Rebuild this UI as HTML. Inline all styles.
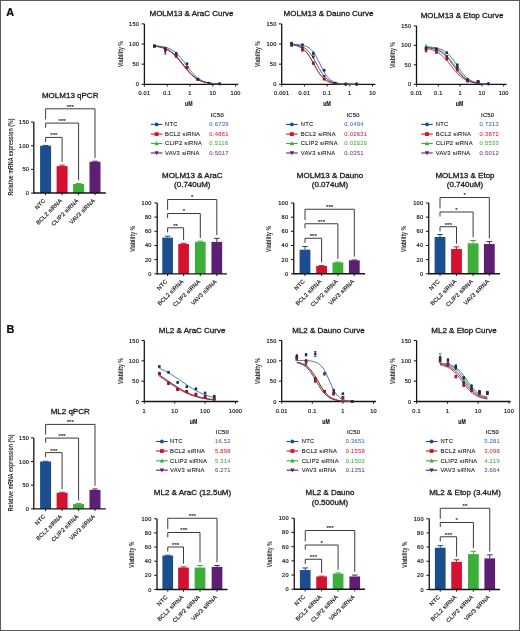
<!DOCTYPE html>
<html><head><meta charset="utf-8"><title>Figure</title>
<style>html,body{margin:0;padding:0;background:#fff;} svg{display:block;will-change:transform;}</style>
</head><body>
<svg width="520" height="631" viewBox="0 0 520 631" font-family='"Liberation Sans", sans-serif'>
<rect x="0" y="0" width="520" height="631" fill="#ffffff"/>
<rect x="0.5" y="0.5" width="519" height="630" fill="none" stroke="#5a5a5a" stroke-width="1"/>
<text x="10.20" y="15.90" font-size="10.9" text-anchor="middle" font-weight="bold" fill="#0a0a0a" stroke="#0a0a0a" stroke-width="0.2">A</text>
<text x="10.50" y="332.80" font-size="10.9" text-anchor="middle" font-weight="bold" fill="#0a0a0a" stroke="#0a0a0a" stroke-width="0.2">B</text>
<text x="70.20" y="97.70" font-size="8" text-anchor="middle" font-weight="normal" fill="#1a1a1a" stroke="#1a1a1a" stroke-width="0.3">MOLM13 qPCR</text>
<line x1="33.80" y1="122.09" x2="33.80" y2="193.50" stroke="#141414" stroke-width="1.3"/>
<line x1="31.00" y1="193.00" x2="33.80" y2="193.00" stroke="#141414" stroke-width="1"/>
<text x="29.20" y="195.00" font-size="5.6" text-anchor="end" font-weight="normal" fill="#1a1a1a" letter-spacing="0.25" stroke="#1a1a1a" stroke-width="0.18">0</text>
<line x1="31.00" y1="169.37" x2="33.80" y2="169.37" stroke="#141414" stroke-width="1"/>
<text x="29.20" y="171.37" font-size="5.6" text-anchor="end" font-weight="normal" fill="#1a1a1a" letter-spacing="0.25" stroke="#1a1a1a" stroke-width="0.18">50</text>
<line x1="31.00" y1="145.73" x2="33.80" y2="145.73" stroke="#141414" stroke-width="1"/>
<text x="29.20" y="147.73" font-size="5.6" text-anchor="end" font-weight="normal" fill="#1a1a1a" letter-spacing="0.25" stroke="#1a1a1a" stroke-width="0.18">100</text>
<line x1="31.00" y1="122.09" x2="33.80" y2="122.09" stroke="#141414" stroke-width="1"/>
<text x="29.20" y="124.09" font-size="5.6" text-anchor="end" font-weight="normal" fill="#1a1a1a" letter-spacing="0.25" stroke="#1a1a1a" stroke-width="0.18">150</text>
<rect x="40.10" y="145.73" width="11.00" height="47.27" fill="#1b4e8e"/>
<line x1="45.60" y1="145.73" x2="45.60" y2="145.45" stroke="#1b4e8e" stroke-width="1"/>
<line x1="42.80" y1="145.45" x2="48.40" y2="145.45" stroke="#1b4e8e" stroke-width="1"/>
<rect x="56.60" y="166.06" width="11.00" height="26.94" fill="#d3122f"/>
<line x1="62.10" y1="166.06" x2="62.10" y2="165.11" stroke="#d3122f" stroke-width="1"/>
<line x1="59.30" y1="165.11" x2="64.90" y2="165.11" stroke="#d3122f" stroke-width="1"/>
<rect x="73.10" y="184.02" width="11.00" height="8.98" fill="#3dae3a"/>
<line x1="78.60" y1="184.02" x2="78.60" y2="183.55" stroke="#3dae3a" stroke-width="1"/>
<line x1="75.80" y1="183.55" x2="81.40" y2="183.55" stroke="#3dae3a" stroke-width="1"/>
<rect x="89.50" y="161.80" width="11.00" height="31.20" fill="#5c1f72"/>
<line x1="95.00" y1="161.80" x2="95.00" y2="161.23" stroke="#5c1f72" stroke-width="1"/>
<line x1="92.20" y1="161.23" x2="97.80" y2="161.23" stroke="#5c1f72" stroke-width="1"/>
<line x1="33.30" y1="193.00" x2="105.80" y2="193.00" stroke="#141414" stroke-width="1.3"/>
<line x1="45.60" y1="193.00" x2="45.60" y2="195.20" stroke="#141414" stroke-width="1"/>
<text x="45.90" y="201.00" font-size="5.7" text-anchor="end" font-weight="normal" fill="#1a1a1a" letter-spacing="0.2" transform="rotate(-45 45.90 201.00)" stroke="#1a1a1a" stroke-width="0.18">NTC</text>
<line x1="62.10" y1="193.00" x2="62.10" y2="195.20" stroke="#141414" stroke-width="1"/>
<text x="62.40" y="201.00" font-size="5.7" text-anchor="end" font-weight="normal" fill="#1a1a1a" letter-spacing="0.2" transform="rotate(-45 62.40 201.00)" stroke="#1a1a1a" stroke-width="0.18">BCL2 siRNA</text>
<line x1="78.60" y1="193.00" x2="78.60" y2="195.20" stroke="#141414" stroke-width="1"/>
<text x="78.90" y="201.00" font-size="5.7" text-anchor="end" font-weight="normal" fill="#1a1a1a" letter-spacing="0.2" transform="rotate(-45 78.90 201.00)" stroke="#1a1a1a" stroke-width="0.18">CLIP2 siRNA</text>
<line x1="95.00" y1="193.00" x2="95.00" y2="195.20" stroke="#141414" stroke-width="1"/>
<text x="95.30" y="201.00" font-size="5.7" text-anchor="end" font-weight="normal" fill="#1a1a1a" letter-spacing="0.2" transform="rotate(-45 95.30 201.00)" stroke="#1a1a1a" stroke-width="0.18">VAV3 siRNA</text>
<polyline points="45.60,142.00 45.60,137.40 62.10,137.40 62.10,161.91" fill="none" stroke="#3c3c3c" stroke-width="1"/>
<text x="53.85" y="137.30" font-size="6.2" text-anchor="middle" font-weight="normal" fill="#1a1a1a" stroke="#1a1a1a" stroke-width="0.12">***</text>
<polyline points="45.60,127.70 45.60,123.10 78.60,123.10 78.60,180.35" fill="none" stroke="#3c3c3c" stroke-width="1"/>
<text x="62.10" y="123.00" font-size="6.2" text-anchor="middle" font-weight="normal" fill="#1a1a1a" stroke="#1a1a1a" stroke-width="0.12">***</text>
<polyline points="45.60,119.50 45.60,108.80 95.00,108.80 95.00,158.03" fill="none" stroke="#3c3c3c" stroke-width="1"/>
<text x="70.30" y="108.70" font-size="6.2" text-anchor="middle" font-weight="normal" fill="#1a1a1a" stroke="#1a1a1a" stroke-width="0.12">***</text>
<text x="13.50" y="157.05" font-size="7.5" text-anchor="middle" font-weight="bold" fill="#2a2a2a" transform="rotate(-90 13.50 157.05)" textLength="77.0" lengthAdjust="spacingAndGlyphs">Relative mRNA expression (%)</text>
<text x="70.20" y="413.90" font-size="8" text-anchor="middle" font-weight="normal" fill="#1a1a1a" stroke="#1a1a1a" stroke-width="0.3">ML2 qPCR</text>
<line x1="33.80" y1="437.89" x2="33.80" y2="509.30" stroke="#141414" stroke-width="1.3"/>
<line x1="31.00" y1="508.80" x2="33.80" y2="508.80" stroke="#141414" stroke-width="1"/>
<text x="29.20" y="510.80" font-size="5.6" text-anchor="end" font-weight="normal" fill="#1a1a1a" letter-spacing="0.25" stroke="#1a1a1a" stroke-width="0.18">0</text>
<line x1="31.00" y1="485.17" x2="33.80" y2="485.17" stroke="#141414" stroke-width="1"/>
<text x="29.20" y="487.17" font-size="5.6" text-anchor="end" font-weight="normal" fill="#1a1a1a" letter-spacing="0.25" stroke="#1a1a1a" stroke-width="0.18">50</text>
<line x1="31.00" y1="461.53" x2="33.80" y2="461.53" stroke="#141414" stroke-width="1"/>
<text x="29.20" y="463.53" font-size="5.6" text-anchor="end" font-weight="normal" fill="#1a1a1a" letter-spacing="0.25" stroke="#1a1a1a" stroke-width="0.18">100</text>
<line x1="31.00" y1="437.89" x2="33.80" y2="437.89" stroke="#141414" stroke-width="1"/>
<text x="29.20" y="439.89" font-size="5.6" text-anchor="end" font-weight="normal" fill="#1a1a1a" letter-spacing="0.25" stroke="#1a1a1a" stroke-width="0.18">150</text>
<rect x="40.10" y="461.53" width="11.00" height="47.27" fill="#1b4e8e"/>
<line x1="45.60" y1="461.53" x2="45.60" y2="461.25" stroke="#1b4e8e" stroke-width="1"/>
<line x1="42.80" y1="461.25" x2="48.40" y2="461.25" stroke="#1b4e8e" stroke-width="1"/>
<rect x="56.60" y="492.73" width="11.00" height="16.07" fill="#d3122f"/>
<line x1="62.10" y1="492.73" x2="62.10" y2="492.26" stroke="#d3122f" stroke-width="1"/>
<line x1="59.30" y1="492.26" x2="64.90" y2="492.26" stroke="#d3122f" stroke-width="1"/>
<rect x="73.10" y="504.07" width="11.00" height="4.73" fill="#3dae3a"/>
<line x1="78.60" y1="504.07" x2="78.60" y2="503.60" stroke="#3dae3a" stroke-width="1"/>
<line x1="75.80" y1="503.60" x2="81.40" y2="503.60" stroke="#3dae3a" stroke-width="1"/>
<rect x="89.50" y="489.89" width="11.00" height="18.91" fill="#5c1f72"/>
<line x1="95.00" y1="489.89" x2="95.00" y2="488.95" stroke="#5c1f72" stroke-width="1"/>
<line x1="92.20" y1="488.95" x2="97.80" y2="488.95" stroke="#5c1f72" stroke-width="1"/>
<line x1="33.30" y1="508.80" x2="105.80" y2="508.80" stroke="#141414" stroke-width="1.3"/>
<line x1="45.60" y1="508.80" x2="45.60" y2="511.00" stroke="#141414" stroke-width="1"/>
<text x="45.90" y="516.80" font-size="5.7" text-anchor="end" font-weight="normal" fill="#1a1a1a" letter-spacing="0.2" transform="rotate(-45 45.90 516.80)" stroke="#1a1a1a" stroke-width="0.18">NTC</text>
<line x1="62.10" y1="508.80" x2="62.10" y2="511.00" stroke="#141414" stroke-width="1"/>
<text x="62.40" y="516.80" font-size="5.7" text-anchor="end" font-weight="normal" fill="#1a1a1a" letter-spacing="0.2" transform="rotate(-45 62.40 516.80)" stroke="#1a1a1a" stroke-width="0.18">BCL2 siRNA</text>
<line x1="78.60" y1="508.80" x2="78.60" y2="511.00" stroke="#141414" stroke-width="1"/>
<text x="78.90" y="516.80" font-size="5.7" text-anchor="end" font-weight="normal" fill="#1a1a1a" letter-spacing="0.2" transform="rotate(-45 78.90 516.80)" stroke="#1a1a1a" stroke-width="0.18">CLIP2 siRNA</text>
<line x1="95.00" y1="508.80" x2="95.00" y2="511.00" stroke="#141414" stroke-width="1"/>
<text x="95.30" y="516.80" font-size="5.7" text-anchor="end" font-weight="normal" fill="#1a1a1a" letter-spacing="0.2" transform="rotate(-45 95.30 516.80)" stroke="#1a1a1a" stroke-width="0.18">VAV3 siRNA</text>
<polyline points="45.60,457.20 45.60,452.60 62.10,452.60 62.10,489.06" fill="none" stroke="#3c3c3c" stroke-width="1"/>
<text x="53.85" y="452.50" font-size="6.2" text-anchor="middle" font-weight="normal" fill="#1a1a1a" stroke="#1a1a1a" stroke-width="0.12">***</text>
<polyline points="45.60,442.70 45.60,438.10 78.60,438.10 78.60,500.40" fill="none" stroke="#3c3c3c" stroke-width="1"/>
<text x="62.10" y="438.00" font-size="6.2" text-anchor="middle" font-weight="normal" fill="#1a1a1a" stroke="#1a1a1a" stroke-width="0.12">***</text>
<polyline points="45.60,434.50 45.60,424.40 95.00,424.40 95.00,485.75" fill="none" stroke="#3c3c3c" stroke-width="1"/>
<text x="70.30" y="424.30" font-size="6.2" text-anchor="middle" font-weight="normal" fill="#1a1a1a" stroke="#1a1a1a" stroke-width="0.12">***</text>
<text x="13.50" y="472.85" font-size="7.5" text-anchor="middle" font-weight="bold" fill="#2a2a2a" transform="rotate(-90 13.50 472.85)" textLength="77.0" lengthAdjust="spacingAndGlyphs">Relative mRNA expression (%)</text>
<text x="191.50" y="16.00" font-size="8" text-anchor="middle" font-weight="normal" fill="#1a1a1a" stroke="#1a1a1a" stroke-width="0.3">MOLM13 &amp; AraC Curve</text>
<line x1="144.40" y1="23.89" x2="144.40" y2="84.80" stroke="#141414" stroke-width="1.3"/>
<line x1="141.60" y1="84.30" x2="144.40" y2="84.30" stroke="#141414" stroke-width="1"/>
<text x="139.20" y="86.30" font-size="5.6" text-anchor="end" font-weight="normal" fill="#1a1a1a" letter-spacing="0.25" stroke="#1a1a1a" stroke-width="0.18">0</text>
<line x1="141.60" y1="64.16" x2="144.40" y2="64.16" stroke="#141414" stroke-width="1"/>
<text x="139.20" y="66.16" font-size="5.6" text-anchor="end" font-weight="normal" fill="#1a1a1a" letter-spacing="0.25" stroke="#1a1a1a" stroke-width="0.18">50</text>
<line x1="141.60" y1="44.03" x2="144.40" y2="44.03" stroke="#141414" stroke-width="1"/>
<text x="139.20" y="46.03" font-size="5.6" text-anchor="end" font-weight="normal" fill="#1a1a1a" letter-spacing="0.25" stroke="#1a1a1a" stroke-width="0.18">100</text>
<line x1="141.60" y1="23.89" x2="144.40" y2="23.89" stroke="#141414" stroke-width="1"/>
<text x="139.20" y="25.89" font-size="5.6" text-anchor="end" font-weight="normal" fill="#1a1a1a" letter-spacing="0.25" stroke="#1a1a1a" stroke-width="0.18">150</text>
<line x1="143.90" y1="84.30" x2="238.30" y2="84.30" stroke="#141414" stroke-width="1.3"/>
<line x1="144.40" y1="84.30" x2="144.40" y2="86.50" stroke="#141414" stroke-width="1"/>
<text x="144.40" y="95.30" font-size="5.6" text-anchor="middle" font-weight="normal" fill="#1a1a1a" letter-spacing="0.25" stroke="#1a1a1a" stroke-width="0.18">0.01</text>
<line x1="167.20" y1="84.30" x2="167.20" y2="86.50" stroke="#141414" stroke-width="1"/>
<text x="167.20" y="95.30" font-size="5.6" text-anchor="middle" font-weight="normal" fill="#1a1a1a" letter-spacing="0.25" stroke="#1a1a1a" stroke-width="0.18">0.1</text>
<line x1="190.00" y1="84.30" x2="190.00" y2="86.50" stroke="#141414" stroke-width="1"/>
<text x="190.00" y="95.30" font-size="5.6" text-anchor="middle" font-weight="normal" fill="#1a1a1a" letter-spacing="0.25" stroke="#1a1a1a" stroke-width="0.18">1</text>
<line x1="212.80" y1="84.30" x2="212.80" y2="86.50" stroke="#141414" stroke-width="1"/>
<text x="212.80" y="95.30" font-size="5.6" text-anchor="middle" font-weight="normal" fill="#1a1a1a" letter-spacing="0.25" stroke="#1a1a1a" stroke-width="0.18">10</text>
<line x1="235.60" y1="84.30" x2="235.60" y2="86.50" stroke="#141414" stroke-width="1"/>
<text x="235.60" y="95.30" font-size="5.6" text-anchor="middle" font-weight="normal" fill="#1a1a1a" letter-spacing="0.25" stroke="#1a1a1a" stroke-width="0.18">100</text>
<text x="188.80" y="106.40" font-size="7.6" text-anchor="middle" font-weight="bold" fill="#1a1a1a" textLength="7.5" lengthAdjust="spacingAndGlyphs" stroke="#1a1a1a" stroke-width="0.18">uM</text>
<text x="122.90" y="54.10" font-size="7.5" text-anchor="middle" font-weight="bold" fill="#2a2a2a" transform="rotate(-90 122.90 54.10)" textLength="26.0" lengthAdjust="spacingAndGlyphs">Viability %</text>
<polyline points="154.4,46.1 156.0,46.3 157.7,46.5 159.3,46.8 160.9,47.2 162.6,47.6 164.2,48.2 165.8,48.8 167.4,49.5 169.1,50.4 170.7,51.5 172.3,52.7 174.0,54.1 175.6,55.6 177.2,57.3 178.9,59.2 180.5,61.1 182.1,63.2 183.8,65.3 185.4,67.4 187.0,69.4 188.7,71.3 190.3,73.1 191.9,74.7 193.6,76.2 195.2,77.5 196.8,78.6 198.5,79.6 200.1,80.4 201.7,81.1 203.3,81.7 205.0,82.1 206.6,82.5 208.2,82.9 209.9,83.1 211.5,83.4 213.1,83.5 214.8,83.7 216.4,83.8 218.0,83.9 219.7,84.0" fill="none" stroke="#3f9f3f" stroke-width="0.9"/>
<polyline points="154.4,46.1 156.0,46.3 157.7,46.6 159.3,46.9 160.9,47.2 162.6,47.7 164.2,48.2 165.8,48.9 167.4,49.6 169.1,50.5 170.7,51.6 172.3,52.8 174.0,54.2 175.6,55.8 177.2,57.5 178.9,59.4 180.5,61.4 182.1,63.4 183.8,65.5 185.4,67.6 187.0,69.6 188.7,71.5 190.3,73.3 191.9,74.9 193.6,76.3 195.2,77.6 196.8,78.7 198.5,79.7 200.1,80.5 201.7,81.2 203.3,81.7 205.0,82.2 206.6,82.6 208.2,82.9 209.9,83.2 211.5,83.4 213.1,83.6 214.8,83.7 216.4,83.8 218.0,83.9 219.7,84.0" fill="none" stroke="#5a2a72" stroke-width="0.9"/>
<polyline points="154.4,46.1 156.0,46.4 157.7,46.6 159.3,46.9 160.9,47.3 162.6,47.8 164.2,48.3 165.8,49.0 167.4,49.8 169.1,50.7 170.7,51.8 172.3,53.1 174.0,54.5 175.6,56.1 177.2,57.9 178.9,59.8 180.5,61.8 182.1,63.8 183.8,65.9 185.4,68.0 187.0,70.0 188.7,71.9 190.3,73.6 191.9,75.2 193.6,76.6 195.2,77.8 196.8,78.9 198.5,79.8 200.1,80.6 201.7,81.3 203.3,81.8 205.0,82.3 206.6,82.6 208.2,83.0 209.9,83.2 211.5,83.4 213.1,83.6 214.8,83.7 216.4,83.8 218.0,83.9 219.7,84.0" fill="none" stroke="#c0182e" stroke-width="0.9"/>
<polyline points="154.4,45.7 156.0,45.8 157.7,45.9 159.3,46.1 160.9,46.3 162.6,46.6 164.2,46.9 165.8,47.3 167.4,47.8 169.1,48.5 170.7,49.2 172.3,50.1 174.0,51.2 175.6,52.5 177.2,53.9 178.9,55.6 180.5,57.4 182.1,59.4 183.8,61.6 185.4,63.8 187.0,66.1 188.7,68.3 190.3,70.4 191.9,72.4 193.6,74.2 195.2,75.8 196.8,77.3 198.5,78.5 200.1,79.6 201.7,80.4 203.3,81.2 205.0,81.8 206.6,82.3 208.2,82.7 209.9,83.0 211.5,83.3 213.1,83.5 214.8,83.6 216.4,83.8 218.0,83.9 219.7,84.0" fill="none" stroke="#2f6aa5" stroke-width="0.9"/>
<polygon points="219.66,82.40 221.16,85.09 218.17,85.09" fill="#2f8a2f"/>
<polygon points="208.79,82.00 210.28,84.69 207.29,84.69" fill="#2f8a2f"/>
<line x1="197.91" y1="79.87" x2="197.91" y2="79.06" stroke="#2f8a2f" stroke-width="0.8"/>
<line x1="196.71" y1="79.06" x2="199.11" y2="79.06" stroke="#2f8a2f" stroke-width="0.8"/>
<line x1="196.71" y1="79.87" x2="199.11" y2="79.87" stroke="#2f8a2f" stroke-width="0.8"/>
<polygon points="197.91,77.97 199.40,80.66 196.41,80.66" fill="#2f8a2f"/>
<line x1="187.03" y1="66.98" x2="187.03" y2="66.18" stroke="#2f8a2f" stroke-width="0.8"/>
<line x1="185.83" y1="66.18" x2="188.23" y2="66.18" stroke="#2f8a2f" stroke-width="0.8"/>
<line x1="185.83" y1="66.98" x2="188.23" y2="66.98" stroke="#2f8a2f" stroke-width="0.8"/>
<polygon points="187.03,65.09 188.52,67.78 185.53,67.78" fill="#2f8a2f"/>
<line x1="176.15" y1="56.11" x2="176.15" y2="54.50" stroke="#2f8a2f" stroke-width="0.8"/>
<line x1="174.95" y1="54.50" x2="177.35" y2="54.50" stroke="#2f8a2f" stroke-width="0.8"/>
<line x1="174.95" y1="56.11" x2="177.35" y2="56.11" stroke="#2f8a2f" stroke-width="0.8"/>
<polygon points="176.15,53.81 177.65,56.50 174.66,56.50" fill="#2f8a2f"/>
<line x1="165.27" y1="49.67" x2="165.27" y2="48.06" stroke="#2f8a2f" stroke-width="0.8"/>
<line x1="164.07" y1="48.06" x2="166.47" y2="48.06" stroke="#2f8a2f" stroke-width="0.8"/>
<line x1="164.07" y1="49.67" x2="166.47" y2="49.67" stroke="#2f8a2f" stroke-width="0.8"/>
<polygon points="165.27,47.37 166.77,50.06 163.78,50.06" fill="#2f8a2f"/>
<line x1="154.39" y1="46.45" x2="154.39" y2="44.84" stroke="#2f8a2f" stroke-width="0.8"/>
<line x1="153.19" y1="44.84" x2="155.59" y2="44.84" stroke="#2f8a2f" stroke-width="0.8"/>
<line x1="153.19" y1="46.45" x2="155.59" y2="46.45" stroke="#2f8a2f" stroke-width="0.8"/>
<polygon points="154.39,44.15 155.89,46.84 152.90,46.84" fill="#2f8a2f"/>
<polygon points="219.66,85.39 221.16,82.70 218.17,82.70" fill="#461858"/>
<polygon points="208.79,84.99 210.28,82.30 207.29,82.30" fill="#461858"/>
<line x1="197.91" y1="79.87" x2="197.91" y2="79.06" stroke="#461858" stroke-width="0.8"/>
<line x1="196.71" y1="79.06" x2="199.11" y2="79.06" stroke="#461858" stroke-width="0.8"/>
<line x1="196.71" y1="79.87" x2="199.11" y2="79.87" stroke="#461858" stroke-width="0.8"/>
<polygon points="197.91,80.96 199.40,78.27 196.41,78.27" fill="#461858"/>
<line x1="187.03" y1="67.79" x2="187.03" y2="66.98" stroke="#461858" stroke-width="0.8"/>
<line x1="185.83" y1="66.98" x2="188.23" y2="66.98" stroke="#461858" stroke-width="0.8"/>
<line x1="185.83" y1="67.79" x2="188.23" y2="67.79" stroke="#461858" stroke-width="0.8"/>
<polygon points="187.03,68.88 188.52,66.19 185.53,66.19" fill="#461858"/>
<line x1="176.15" y1="56.92" x2="176.15" y2="55.31" stroke="#461858" stroke-width="0.8"/>
<line x1="174.95" y1="55.31" x2="177.35" y2="55.31" stroke="#461858" stroke-width="0.8"/>
<line x1="174.95" y1="56.92" x2="177.35" y2="56.92" stroke="#461858" stroke-width="0.8"/>
<polygon points="176.15,57.61 177.65,54.91 174.66,54.91" fill="#461858"/>
<line x1="165.27" y1="54.10" x2="165.27" y2="49.27" stroke="#461858" stroke-width="0.8"/>
<line x1="164.07" y1="49.27" x2="166.47" y2="49.27" stroke="#461858" stroke-width="0.8"/>
<line x1="164.07" y1="54.10" x2="166.47" y2="54.10" stroke="#461858" stroke-width="0.8"/>
<polygon points="165.27,53.18 166.77,50.49 163.78,50.49" fill="#461858"/>
<line x1="154.39" y1="47.25" x2="154.39" y2="45.64" stroke="#461858" stroke-width="0.8"/>
<line x1="153.19" y1="45.64" x2="155.59" y2="45.64" stroke="#461858" stroke-width="0.8"/>
<line x1="153.19" y1="47.25" x2="155.59" y2="47.25" stroke="#461858" stroke-width="0.8"/>
<polygon points="154.39,47.94 155.89,45.25 152.90,45.25" fill="#461858"/>
<rect x="218.36" y="82.60" width="2.60" height="2.60" fill="#a8102a"/>
<rect x="207.49" y="82.19" width="2.60" height="2.60" fill="#a8102a"/>
<line x1="197.91" y1="79.87" x2="197.91" y2="79.06" stroke="#a8102a" stroke-width="0.8"/>
<line x1="196.71" y1="79.06" x2="199.11" y2="79.06" stroke="#a8102a" stroke-width="0.8"/>
<line x1="196.71" y1="79.87" x2="199.11" y2="79.87" stroke="#a8102a" stroke-width="0.8"/>
<rect x="196.61" y="78.17" width="2.60" height="2.60" fill="#a8102a"/>
<line x1="187.03" y1="67.79" x2="187.03" y2="66.98" stroke="#a8102a" stroke-width="0.8"/>
<line x1="185.83" y1="66.98" x2="188.23" y2="66.98" stroke="#a8102a" stroke-width="0.8"/>
<line x1="185.83" y1="67.79" x2="188.23" y2="67.79" stroke="#a8102a" stroke-width="0.8"/>
<rect x="185.73" y="66.09" width="2.60" height="2.60" fill="#a8102a"/>
<line x1="176.15" y1="56.92" x2="176.15" y2="55.31" stroke="#a8102a" stroke-width="0.8"/>
<line x1="174.95" y1="55.31" x2="177.35" y2="55.31" stroke="#a8102a" stroke-width="0.8"/>
<line x1="174.95" y1="56.92" x2="177.35" y2="56.92" stroke="#a8102a" stroke-width="0.8"/>
<rect x="174.85" y="54.81" width="2.60" height="2.60" fill="#a8102a"/>
<line x1="165.27" y1="50.88" x2="165.27" y2="49.27" stroke="#a8102a" stroke-width="0.8"/>
<line x1="164.07" y1="49.27" x2="166.47" y2="49.27" stroke="#a8102a" stroke-width="0.8"/>
<line x1="164.07" y1="50.88" x2="166.47" y2="50.88" stroke="#a8102a" stroke-width="0.8"/>
<rect x="163.97" y="48.77" width="2.60" height="2.60" fill="#a8102a"/>
<line x1="154.39" y1="46.85" x2="154.39" y2="45.24" stroke="#a8102a" stroke-width="0.8"/>
<line x1="153.19" y1="45.24" x2="155.59" y2="45.24" stroke="#a8102a" stroke-width="0.8"/>
<line x1="153.19" y1="46.85" x2="155.59" y2="46.85" stroke="#a8102a" stroke-width="0.8"/>
<rect x="153.09" y="44.74" width="2.60" height="2.60" fill="#a8102a"/>
<circle cx="219.66" cy="83.90" r="1.30" fill="#142d5c"/>
<circle cx="208.79" cy="83.09" r="1.30" fill="#142d5c"/>
<line x1="197.91" y1="79.47" x2="197.91" y2="78.66" stroke="#142d5c" stroke-width="0.8"/>
<line x1="196.71" y1="78.66" x2="199.11" y2="78.66" stroke="#142d5c" stroke-width="0.8"/>
<line x1="196.71" y1="79.47" x2="199.11" y2="79.47" stroke="#142d5c" stroke-width="0.8"/>
<circle cx="197.91" cy="79.06" r="1.30" fill="#142d5c"/>
<line x1="187.03" y1="64.57" x2="187.03" y2="62.96" stroke="#142d5c" stroke-width="0.8"/>
<line x1="185.83" y1="62.96" x2="188.23" y2="62.96" stroke="#142d5c" stroke-width="0.8"/>
<line x1="185.83" y1="64.57" x2="188.23" y2="64.57" stroke="#142d5c" stroke-width="0.8"/>
<circle cx="187.03" cy="63.76" r="1.30" fill="#142d5c"/>
<line x1="176.15" y1="54.10" x2="176.15" y2="52.49" stroke="#142d5c" stroke-width="0.8"/>
<line x1="174.95" y1="52.49" x2="177.35" y2="52.49" stroke="#142d5c" stroke-width="0.8"/>
<line x1="174.95" y1="54.10" x2="177.35" y2="54.10" stroke="#142d5c" stroke-width="0.8"/>
<circle cx="176.15" cy="53.29" r="1.30" fill="#142d5c"/>
<line x1="165.27" y1="49.27" x2="165.27" y2="47.65" stroke="#142d5c" stroke-width="0.8"/>
<line x1="164.07" y1="47.65" x2="166.47" y2="47.65" stroke="#142d5c" stroke-width="0.8"/>
<line x1="164.07" y1="49.27" x2="166.47" y2="49.27" stroke="#142d5c" stroke-width="0.8"/>
<circle cx="165.27" cy="48.46" r="1.30" fill="#142d5c"/>
<line x1="154.39" y1="46.85" x2="154.39" y2="45.24" stroke="#142d5c" stroke-width="0.8"/>
<line x1="153.19" y1="45.24" x2="155.59" y2="45.24" stroke="#142d5c" stroke-width="0.8"/>
<line x1="153.19" y1="46.85" x2="155.59" y2="46.85" stroke="#142d5c" stroke-width="0.8"/>
<circle cx="154.39" cy="46.04" r="1.30" fill="#142d5c"/>
<text x="328.50" y="16.00" font-size="8" text-anchor="middle" font-weight="normal" fill="#1a1a1a" stroke="#1a1a1a" stroke-width="0.3">MOLM13 &amp; Dauno Curve</text>
<line x1="281.70" y1="23.89" x2="281.70" y2="84.80" stroke="#141414" stroke-width="1.3"/>
<line x1="278.90" y1="84.30" x2="281.70" y2="84.30" stroke="#141414" stroke-width="1"/>
<text x="276.50" y="86.30" font-size="5.6" text-anchor="end" font-weight="normal" fill="#1a1a1a" letter-spacing="0.25" stroke="#1a1a1a" stroke-width="0.18">0</text>
<line x1="278.90" y1="64.16" x2="281.70" y2="64.16" stroke="#141414" stroke-width="1"/>
<text x="276.50" y="66.16" font-size="5.6" text-anchor="end" font-weight="normal" fill="#1a1a1a" letter-spacing="0.25" stroke="#1a1a1a" stroke-width="0.18">50</text>
<line x1="278.90" y1="44.03" x2="281.70" y2="44.03" stroke="#141414" stroke-width="1"/>
<text x="276.50" y="46.03" font-size="5.6" text-anchor="end" font-weight="normal" fill="#1a1a1a" letter-spacing="0.25" stroke="#1a1a1a" stroke-width="0.18">100</text>
<line x1="278.90" y1="23.89" x2="281.70" y2="23.89" stroke="#141414" stroke-width="1"/>
<text x="276.50" y="25.89" font-size="5.6" text-anchor="end" font-weight="normal" fill="#1a1a1a" letter-spacing="0.25" stroke="#1a1a1a" stroke-width="0.18">150</text>
<line x1="281.20" y1="84.30" x2="375.40" y2="84.30" stroke="#141414" stroke-width="1.3"/>
<line x1="281.70" y1="84.30" x2="281.70" y2="86.50" stroke="#141414" stroke-width="1"/>
<text x="281.70" y="95.30" font-size="5.6" text-anchor="middle" font-weight="normal" fill="#1a1a1a" letter-spacing="0.25" stroke="#1a1a1a" stroke-width="0.18">0.001</text>
<line x1="304.40" y1="84.30" x2="304.40" y2="86.50" stroke="#141414" stroke-width="1"/>
<text x="304.40" y="95.30" font-size="5.6" text-anchor="middle" font-weight="normal" fill="#1a1a1a" letter-spacing="0.25" stroke="#1a1a1a" stroke-width="0.18">0.01</text>
<line x1="327.10" y1="84.30" x2="327.10" y2="86.50" stroke="#141414" stroke-width="1"/>
<text x="327.10" y="95.30" font-size="5.6" text-anchor="middle" font-weight="normal" fill="#1a1a1a" letter-spacing="0.25" stroke="#1a1a1a" stroke-width="0.18">0.1</text>
<line x1="349.80" y1="84.30" x2="349.80" y2="86.50" stroke="#141414" stroke-width="1"/>
<text x="349.80" y="95.30" font-size="5.6" text-anchor="middle" font-weight="normal" fill="#1a1a1a" letter-spacing="0.25" stroke="#1a1a1a" stroke-width="0.18">1</text>
<line x1="372.50" y1="84.30" x2="372.50" y2="86.50" stroke="#141414" stroke-width="1"/>
<text x="372.50" y="95.30" font-size="5.6" text-anchor="middle" font-weight="normal" fill="#1a1a1a" letter-spacing="0.25" stroke="#1a1a1a" stroke-width="0.18">10</text>
<text x="327.10" y="106.40" font-size="7.6" text-anchor="middle" font-weight="bold" fill="#1a1a1a" textLength="7.5" lengthAdjust="spacingAndGlyphs" stroke="#1a1a1a" stroke-width="0.18">uM</text>
<text x="260.20" y="54.10" font-size="7.5" text-anchor="middle" font-weight="bold" fill="#2a2a2a" transform="rotate(-90 260.20 54.10)" textLength="26.0" lengthAdjust="spacingAndGlyphs">Viability %</text>
<polyline points="291.6,44.7 293.3,44.9 294.9,45.2 296.5,45.6 298.1,46.2 299.8,46.9 301.4,47.7 303.0,48.9 304.6,50.3 306.3,52.0 307.9,54.1 309.5,56.5 311.1,59.2 312.8,62.1 314.4,65.0 316.0,68.0 317.6,70.8 319.3,73.3 320.9,75.5 322.5,77.4 324.1,78.9 325.8,80.1 327.4,81.1 329.0,81.9 330.6,82.5 332.3,82.9 333.9,83.3 335.5,83.5 337.1,83.7 338.8,83.9 340.4,84.0 342.0,84.1 343.6,84.1 345.3,84.2 346.9,84.2 348.5,84.2 350.1,84.2 351.8,84.3 353.4,84.3 355.0,84.3 356.6,84.3" fill="none" stroke="#3f9f3f" stroke-width="0.9"/>
<polyline points="291.6,44.4 293.3,44.6 294.9,44.8 296.5,45.0 298.1,45.3 299.8,45.8 301.4,46.3 303.0,47.1 304.6,48.0 306.3,49.2 307.9,50.7 309.5,52.5 311.1,54.6 312.8,57.1 314.4,59.8 316.0,62.8 317.6,65.8 319.3,68.7 320.9,71.4 322.5,73.8 324.1,76.0 325.8,77.8 327.4,79.2 329.0,80.4 330.6,81.3 332.3,82.1 333.9,82.6 335.5,83.0 337.1,83.3 338.8,83.6 340.4,83.8 342.0,83.9 343.6,84.0 345.3,84.1 346.9,84.1 348.5,84.2 350.1,84.2 351.8,84.2 353.4,84.2 355.0,84.3 356.6,84.3" fill="none" stroke="#5a2a72" stroke-width="0.9"/>
<polyline points="291.6,44.7 293.3,44.9 294.9,45.2 296.5,45.6 298.1,46.2 299.8,46.9 301.4,47.7 303.0,48.9 304.6,50.3 306.3,52.0 307.9,54.1 309.5,56.5 311.1,59.1 312.8,62.0 314.4,65.0 316.0,67.9 317.6,70.7 319.3,73.3 320.9,75.5 322.5,77.3 324.1,78.9 325.8,80.1 327.4,81.1 329.0,81.9 330.6,82.5 332.3,82.9 333.9,83.3 335.5,83.5 337.1,83.7 338.8,83.9 340.4,84.0 342.0,84.1 343.6,84.1 345.3,84.2 346.9,84.2 348.5,84.2 350.1,84.2 351.8,84.3 353.4,84.3 355.0,84.3 356.6,84.3" fill="none" stroke="#c0182e" stroke-width="0.9"/>
<polyline points="291.6,44.2 293.3,44.2 294.9,44.3 296.5,44.4 298.1,44.5 299.8,44.7 301.4,44.9 303.0,45.2 304.6,45.7 306.3,46.3 307.9,47.1 309.5,48.2 311.1,49.6 312.8,51.4 314.4,53.6 316.0,56.2 317.6,59.2 319.3,62.4 320.9,65.7 322.5,68.9 324.1,71.9 325.8,74.5 327.4,76.8 329.0,78.6 330.6,80.0 332.3,81.1 333.9,82.0 335.5,82.6 337.1,83.1 338.8,83.4 340.4,83.6 342.0,83.8 343.6,84.0 345.3,84.1 346.9,84.1 348.5,84.2 350.1,84.2 351.8,84.2 353.4,84.3 355.0,84.3 356.6,84.3" fill="none" stroke="#2f6aa5" stroke-width="0.9"/>
<polygon points="356.63,82.80 358.13,85.50 355.14,85.50" fill="#2f8a2f"/>
<polygon points="345.80,82.80 347.30,85.50 344.31,85.50" fill="#2f8a2f"/>
<line x1="334.97" y1="83.90" x2="334.97" y2="83.09" stroke="#2f8a2f" stroke-width="0.8"/>
<line x1="333.77" y1="83.09" x2="336.17" y2="83.09" stroke="#2f8a2f" stroke-width="0.8"/>
<line x1="333.77" y1="83.90" x2="336.17" y2="83.90" stroke="#2f8a2f" stroke-width="0.8"/>
<polygon points="334.97,82.00 336.47,84.69 333.48,84.69" fill="#2f8a2f"/>
<line x1="324.14" y1="79.47" x2="324.14" y2="78.66" stroke="#2f8a2f" stroke-width="0.8"/>
<line x1="322.94" y1="78.66" x2="325.34" y2="78.66" stroke="#2f8a2f" stroke-width="0.8"/>
<line x1="322.94" y1="79.47" x2="325.34" y2="79.47" stroke="#2f8a2f" stroke-width="0.8"/>
<polygon points="324.14,77.57 325.64,80.26 322.65,80.26" fill="#2f8a2f"/>
<line x1="313.31" y1="63.36" x2="313.31" y2="61.75" stroke="#2f8a2f" stroke-width="0.8"/>
<line x1="312.11" y1="61.75" x2="314.51" y2="61.75" stroke="#2f8a2f" stroke-width="0.8"/>
<line x1="312.11" y1="63.36" x2="314.51" y2="63.36" stroke="#2f8a2f" stroke-width="0.8"/>
<polygon points="313.31,61.06 314.81,63.75 311.82,63.75" fill="#2f8a2f"/>
<line x1="302.48" y1="50.47" x2="302.48" y2="48.86" stroke="#2f8a2f" stroke-width="0.8"/>
<line x1="301.28" y1="48.86" x2="303.68" y2="48.86" stroke="#2f8a2f" stroke-width="0.8"/>
<line x1="301.28" y1="50.47" x2="303.68" y2="50.47" stroke="#2f8a2f" stroke-width="0.8"/>
<polygon points="302.48,48.17 303.98,50.86 300.99,50.86" fill="#2f8a2f"/>
<line x1="291.65" y1="46.45" x2="291.65" y2="44.03" stroke="#2f8a2f" stroke-width="0.8"/>
<line x1="290.45" y1="44.03" x2="292.85" y2="44.03" stroke="#2f8a2f" stroke-width="0.8"/>
<line x1="290.45" y1="46.45" x2="292.85" y2="46.45" stroke="#2f8a2f" stroke-width="0.8"/>
<polygon points="291.65,43.74 293.14,46.43 290.15,46.43" fill="#2f8a2f"/>
<polygon points="356.63,85.39 358.13,82.70 355.14,82.70" fill="#461858"/>
<polygon points="345.80,85.39 347.30,82.70 344.31,82.70" fill="#461858"/>
<line x1="334.97" y1="83.49" x2="334.97" y2="82.69" stroke="#461858" stroke-width="0.8"/>
<line x1="333.77" y1="82.69" x2="336.17" y2="82.69" stroke="#461858" stroke-width="0.8"/>
<line x1="333.77" y1="83.49" x2="336.17" y2="83.49" stroke="#461858" stroke-width="0.8"/>
<polygon points="334.97,84.59 336.47,81.90 333.48,81.90" fill="#461858"/>
<line x1="324.14" y1="76.65" x2="324.14" y2="75.84" stroke="#461858" stroke-width="0.8"/>
<line x1="322.94" y1="75.84" x2="325.34" y2="75.84" stroke="#461858" stroke-width="0.8"/>
<line x1="322.94" y1="76.65" x2="325.34" y2="76.65" stroke="#461858" stroke-width="0.8"/>
<polygon points="324.14,77.74 325.64,75.05 322.65,75.05" fill="#461858"/>
<line x1="313.31" y1="57.72" x2="313.31" y2="56.11" stroke="#461858" stroke-width="0.8"/>
<line x1="312.11" y1="56.11" x2="314.51" y2="56.11" stroke="#461858" stroke-width="0.8"/>
<line x1="312.11" y1="57.72" x2="314.51" y2="57.72" stroke="#461858" stroke-width="0.8"/>
<polygon points="313.31,58.41 314.81,55.72 311.82,55.72" fill="#461858"/>
<line x1="302.48" y1="48.86" x2="302.48" y2="47.25" stroke="#461858" stroke-width="0.8"/>
<line x1="301.28" y1="47.25" x2="303.68" y2="47.25" stroke="#461858" stroke-width="0.8"/>
<line x1="301.28" y1="48.86" x2="303.68" y2="48.86" stroke="#461858" stroke-width="0.8"/>
<polygon points="302.48,49.55 303.98,46.86 300.99,46.86" fill="#461858"/>
<line x1="291.65" y1="45.24" x2="291.65" y2="42.82" stroke="#461858" stroke-width="0.8"/>
<line x1="290.45" y1="42.82" x2="292.85" y2="42.82" stroke="#461858" stroke-width="0.8"/>
<line x1="290.45" y1="45.24" x2="292.85" y2="45.24" stroke="#461858" stroke-width="0.8"/>
<polygon points="291.65,45.52 293.14,42.83 290.15,42.83" fill="#461858"/>
<rect x="355.33" y="83.00" width="2.60" height="2.60" fill="#a8102a"/>
<rect x="344.50" y="83.00" width="2.60" height="2.60" fill="#a8102a"/>
<line x1="334.97" y1="83.90" x2="334.97" y2="83.09" stroke="#a8102a" stroke-width="0.8"/>
<line x1="333.77" y1="83.09" x2="336.17" y2="83.09" stroke="#a8102a" stroke-width="0.8"/>
<line x1="333.77" y1="83.90" x2="336.17" y2="83.90" stroke="#a8102a" stroke-width="0.8"/>
<rect x="333.67" y="82.19" width="2.60" height="2.60" fill="#a8102a"/>
<line x1="324.14" y1="79.47" x2="324.14" y2="78.66" stroke="#a8102a" stroke-width="0.8"/>
<line x1="322.94" y1="78.66" x2="325.34" y2="78.66" stroke="#a8102a" stroke-width="0.8"/>
<line x1="322.94" y1="79.47" x2="325.34" y2="79.47" stroke="#a8102a" stroke-width="0.8"/>
<rect x="322.84" y="77.76" width="2.60" height="2.60" fill="#a8102a"/>
<line x1="313.31" y1="64.16" x2="313.31" y2="62.55" stroke="#a8102a" stroke-width="0.8"/>
<line x1="312.11" y1="62.55" x2="314.51" y2="62.55" stroke="#a8102a" stroke-width="0.8"/>
<line x1="312.11" y1="64.16" x2="314.51" y2="64.16" stroke="#a8102a" stroke-width="0.8"/>
<rect x="312.01" y="62.06" width="2.60" height="2.60" fill="#a8102a"/>
<line x1="302.48" y1="50.88" x2="302.48" y2="49.27" stroke="#a8102a" stroke-width="0.8"/>
<line x1="301.28" y1="49.27" x2="303.68" y2="49.27" stroke="#a8102a" stroke-width="0.8"/>
<line x1="301.28" y1="50.88" x2="303.68" y2="50.88" stroke="#a8102a" stroke-width="0.8"/>
<rect x="301.18" y="48.77" width="2.60" height="2.60" fill="#a8102a"/>
<line x1="291.65" y1="45.24" x2="291.65" y2="42.82" stroke="#a8102a" stroke-width="0.8"/>
<line x1="290.45" y1="42.82" x2="292.85" y2="42.82" stroke="#a8102a" stroke-width="0.8"/>
<line x1="290.45" y1="45.24" x2="292.85" y2="45.24" stroke="#a8102a" stroke-width="0.8"/>
<rect x="290.35" y="42.73" width="2.60" height="2.60" fill="#a8102a"/>
<circle cx="356.63" cy="83.90" r="1.30" fill="#142d5c"/>
<circle cx="345.80" cy="83.90" r="1.30" fill="#142d5c"/>
<line x1="334.97" y1="83.49" x2="334.97" y2="82.69" stroke="#142d5c" stroke-width="0.8"/>
<line x1="333.77" y1="82.69" x2="336.17" y2="82.69" stroke="#142d5c" stroke-width="0.8"/>
<line x1="333.77" y1="83.49" x2="336.17" y2="83.49" stroke="#142d5c" stroke-width="0.8"/>
<circle cx="334.97" cy="83.09" r="1.30" fill="#142d5c"/>
<line x1="324.14" y1="71.01" x2="324.14" y2="69.40" stroke="#142d5c" stroke-width="0.8"/>
<line x1="322.94" y1="69.40" x2="325.34" y2="69.40" stroke="#142d5c" stroke-width="0.8"/>
<line x1="322.94" y1="71.01" x2="325.34" y2="71.01" stroke="#142d5c" stroke-width="0.8"/>
<circle cx="324.14" cy="70.21" r="1.30" fill="#142d5c"/>
<line x1="313.31" y1="54.50" x2="313.31" y2="52.08" stroke="#142d5c" stroke-width="0.8"/>
<line x1="312.11" y1="52.08" x2="314.51" y2="52.08" stroke="#142d5c" stroke-width="0.8"/>
<line x1="312.11" y1="54.50" x2="314.51" y2="54.50" stroke="#142d5c" stroke-width="0.8"/>
<circle cx="313.31" cy="53.29" r="1.30" fill="#142d5c"/>
<line x1="302.48" y1="45.64" x2="302.48" y2="44.03" stroke="#142d5c" stroke-width="0.8"/>
<line x1="301.28" y1="44.03" x2="303.68" y2="44.03" stroke="#142d5c" stroke-width="0.8"/>
<line x1="301.28" y1="45.64" x2="303.68" y2="45.64" stroke="#142d5c" stroke-width="0.8"/>
<circle cx="302.48" cy="44.84" r="1.30" fill="#142d5c"/>
<line x1="291.65" y1="45.64" x2="291.65" y2="42.42" stroke="#142d5c" stroke-width="0.8"/>
<line x1="290.45" y1="42.42" x2="292.85" y2="42.42" stroke="#142d5c" stroke-width="0.8"/>
<line x1="290.45" y1="45.64" x2="292.85" y2="45.64" stroke="#142d5c" stroke-width="0.8"/>
<circle cx="291.65" cy="44.03" r="1.30" fill="#142d5c"/>
<text x="462.00" y="18.20" font-size="8" text-anchor="middle" font-weight="normal" fill="#1a1a1a" stroke="#1a1a1a" stroke-width="0.3">MOLM13 &amp; Etop Curve</text>
<line x1="416.50" y1="25.91" x2="416.50" y2="84.80" stroke="#141414" stroke-width="1.3"/>
<line x1="413.70" y1="84.30" x2="416.50" y2="84.30" stroke="#141414" stroke-width="1"/>
<text x="411.30" y="86.30" font-size="5.6" text-anchor="end" font-weight="normal" fill="#1a1a1a" letter-spacing="0.25" stroke="#1a1a1a" stroke-width="0.18">0</text>
<line x1="413.70" y1="64.83" x2="416.50" y2="64.83" stroke="#141414" stroke-width="1"/>
<text x="411.30" y="66.83" font-size="5.6" text-anchor="end" font-weight="normal" fill="#1a1a1a" letter-spacing="0.25" stroke="#1a1a1a" stroke-width="0.18">50</text>
<line x1="413.70" y1="45.37" x2="416.50" y2="45.37" stroke="#141414" stroke-width="1"/>
<text x="411.30" y="47.37" font-size="5.6" text-anchor="end" font-weight="normal" fill="#1a1a1a" letter-spacing="0.25" stroke="#1a1a1a" stroke-width="0.18">100</text>
<line x1="413.70" y1="25.91" x2="416.50" y2="25.91" stroke="#141414" stroke-width="1"/>
<text x="411.30" y="27.91" font-size="5.6" text-anchor="end" font-weight="normal" fill="#1a1a1a" letter-spacing="0.25" stroke="#1a1a1a" stroke-width="0.18">150</text>
<line x1="416.00" y1="84.30" x2="506.50" y2="84.30" stroke="#141414" stroke-width="1.3"/>
<line x1="416.50" y1="84.30" x2="416.50" y2="86.50" stroke="#141414" stroke-width="1"/>
<text x="416.50" y="95.30" font-size="5.6" text-anchor="middle" font-weight="normal" fill="#1a1a1a" letter-spacing="0.25" stroke="#1a1a1a" stroke-width="0.18">0.01</text>
<line x1="438.30" y1="84.30" x2="438.30" y2="86.50" stroke="#141414" stroke-width="1"/>
<text x="438.30" y="95.30" font-size="5.6" text-anchor="middle" font-weight="normal" fill="#1a1a1a" letter-spacing="0.25" stroke="#1a1a1a" stroke-width="0.18">0.1</text>
<line x1="460.10" y1="84.30" x2="460.10" y2="86.50" stroke="#141414" stroke-width="1"/>
<text x="460.10" y="95.30" font-size="5.6" text-anchor="middle" font-weight="normal" fill="#1a1a1a" letter-spacing="0.25" stroke="#1a1a1a" stroke-width="0.18">1</text>
<line x1="481.90" y1="84.30" x2="481.90" y2="86.50" stroke="#141414" stroke-width="1"/>
<text x="481.90" y="95.30" font-size="5.6" text-anchor="middle" font-weight="normal" fill="#1a1a1a" letter-spacing="0.25" stroke="#1a1a1a" stroke-width="0.18">10</text>
<line x1="503.70" y1="84.30" x2="503.70" y2="86.50" stroke="#141414" stroke-width="1"/>
<text x="503.70" y="95.30" font-size="5.6" text-anchor="middle" font-weight="normal" fill="#1a1a1a" letter-spacing="0.25" stroke="#1a1a1a" stroke-width="0.18">100</text>
<text x="459.50" y="106.40" font-size="7.6" text-anchor="middle" font-weight="bold" fill="#1a1a1a" textLength="7.5" lengthAdjust="spacingAndGlyphs" stroke="#1a1a1a" stroke-width="0.18">uM</text>
<text x="395.00" y="55.10" font-size="7.5" text-anchor="middle" font-weight="bold" fill="#2a2a2a" transform="rotate(-90 395.00 55.10)" textLength="26.0" lengthAdjust="spacingAndGlyphs">Viability %</text>
<polyline points="426.1,47.1 427.6,47.2 429.2,47.4 430.7,47.6 432.3,47.9 433.9,48.2 435.4,48.7 437.0,49.2 438.5,49.8 440.1,50.6 441.7,51.5 443.2,52.5 444.8,53.8 446.3,55.2 447.9,56.9 449.5,58.7 451.0,60.7 452.6,62.8 454.1,64.9 455.7,67.1 457.3,69.2 458.8,71.3 460.4,73.1 461.9,74.9 463.5,76.4 465.1,77.8 466.6,78.9 468.2,79.9 469.7,80.7 471.3,81.4 472.9,82.0 474.4,82.4 476.0,82.8 477.5,83.1 479.1,83.3 480.7,83.5 482.2,83.7 483.8,83.8 485.3,83.9 486.9,84.0 488.5,84.1" fill="none" stroke="#3f9f3f" stroke-width="0.9"/>
<polyline points="426.1,47.6 427.6,47.7 429.2,47.9 430.7,48.2 432.3,48.5 433.9,48.9 435.4,49.3 437.0,49.9 438.5,50.6 440.1,51.4 441.7,52.4 443.2,53.6 444.8,54.9 446.3,56.5 447.9,58.2 449.5,60.1 451.0,62.1 452.6,64.3 454.1,66.4 455.7,68.5 457.3,70.6 458.8,72.5 460.4,74.3 461.9,75.9 463.5,77.3 465.1,78.5 466.6,79.6 468.2,80.4 469.7,81.2 471.3,81.8 472.9,82.3 474.4,82.7 476.0,83.0 477.5,83.3 479.1,83.5 480.7,83.6 482.2,83.8 483.8,83.9 485.3,84.0 486.9,84.0 488.5,84.1" fill="none" stroke="#5a2a72" stroke-width="0.9"/>
<polyline points="426.1,48.5 427.6,48.7 429.2,49.0 430.7,49.4 432.3,49.9 433.9,50.5 435.4,51.2 437.0,52.0 438.5,52.9 440.1,54.0 441.7,55.2 443.2,56.7 444.8,58.2 446.3,59.9 447.9,61.8 449.5,63.7 451.0,65.7 452.6,67.7 454.1,69.6 455.7,71.4 457.3,73.2 458.8,74.8 460.4,76.2 461.9,77.5 463.5,78.6 465.1,79.5 466.6,80.4 468.2,81.1 469.7,81.6 471.3,82.1 472.9,82.5 474.4,82.9 476.0,83.1 477.5,83.3 479.1,83.5 480.7,83.7 482.2,83.8 483.8,83.9 485.3,84.0 486.9,84.0 488.5,84.1" fill="none" stroke="#c0182e" stroke-width="0.9"/>
<polyline points="426.1,46.8 427.6,46.9 429.2,47.0 430.7,47.1 432.3,47.3 433.9,47.5 435.4,47.7 437.0,48.1 438.5,48.5 440.1,49.0 441.7,49.6 443.2,50.4 444.8,51.3 446.3,52.4 447.9,53.8 449.5,55.3 451.0,57.1 452.6,59.1 454.1,61.2 455.7,63.5 457.3,65.8 458.8,68.1 460.4,70.3 461.9,72.4 463.5,74.4 465.1,76.1 466.6,77.5 468.2,78.8 469.7,79.9 471.3,80.7 472.9,81.5 474.4,82.1 476.0,82.5 477.5,82.9 479.1,83.2 480.7,83.4 482.2,83.6 483.8,83.8 485.3,83.9 486.9,84.0 488.5,84.0" fill="none" stroke="#2f6aa5" stroke-width="0.9"/>
<polygon points="488.46,82.42 489.96,85.11 486.97,85.11" fill="#2f8a2f"/>
<line x1="478.06" y1="81.96" x2="478.06" y2="81.19" stroke="#2f8a2f" stroke-width="0.8"/>
<line x1="476.86" y1="81.19" x2="479.26" y2="81.19" stroke="#2f8a2f" stroke-width="0.8"/>
<line x1="476.86" y1="81.96" x2="479.26" y2="81.96" stroke="#2f8a2f" stroke-width="0.8"/>
<polygon points="478.06,80.08 479.56,82.77 476.57,82.77" fill="#2f8a2f"/>
<line x1="467.66" y1="80.80" x2="467.66" y2="80.02" stroke="#2f8a2f" stroke-width="0.8"/>
<line x1="466.46" y1="80.02" x2="468.86" y2="80.02" stroke="#2f8a2f" stroke-width="0.8"/>
<line x1="466.46" y1="80.80" x2="468.86" y2="80.80" stroke="#2f8a2f" stroke-width="0.8"/>
<polygon points="467.66,78.91 469.15,81.60 466.16,81.60" fill="#2f8a2f"/>
<line x1="457.26" y1="67.56" x2="457.26" y2="66.00" stroke="#2f8a2f" stroke-width="0.8"/>
<line x1="456.06" y1="66.00" x2="458.46" y2="66.00" stroke="#2f8a2f" stroke-width="0.8"/>
<line x1="456.06" y1="67.56" x2="458.46" y2="67.56" stroke="#2f8a2f" stroke-width="0.8"/>
<polygon points="457.26,65.29 458.75,67.98 455.76,67.98" fill="#2f8a2f"/>
<line x1="446.86" y1="57.05" x2="446.86" y2="55.49" stroke="#2f8a2f" stroke-width="0.8"/>
<line x1="445.66" y1="55.49" x2="448.06" y2="55.49" stroke="#2f8a2f" stroke-width="0.8"/>
<line x1="445.66" y1="57.05" x2="448.06" y2="57.05" stroke="#2f8a2f" stroke-width="0.8"/>
<polygon points="446.86,54.78 448.35,57.47 445.36,57.47" fill="#2f8a2f"/>
<line x1="436.46" y1="50.82" x2="436.46" y2="49.26" stroke="#2f8a2f" stroke-width="0.8"/>
<line x1="435.26" y1="49.26" x2="437.66" y2="49.26" stroke="#2f8a2f" stroke-width="0.8"/>
<line x1="435.26" y1="50.82" x2="437.66" y2="50.82" stroke="#2f8a2f" stroke-width="0.8"/>
<polygon points="436.46,48.55 437.95,51.24 434.96,51.24" fill="#2f8a2f"/>
<line x1="426.05" y1="48.87" x2="426.05" y2="44.98" stroke="#2f8a2f" stroke-width="0.8"/>
<line x1="424.85" y1="44.98" x2="427.25" y2="44.98" stroke="#2f8a2f" stroke-width="0.8"/>
<line x1="424.85" y1="48.87" x2="427.25" y2="48.87" stroke="#2f8a2f" stroke-width="0.8"/>
<polygon points="426.05,45.43 427.55,48.12 424.56,48.12" fill="#2f8a2f"/>
<polygon points="488.46,85.41 489.96,82.71 486.97,82.71" fill="#461858"/>
<line x1="478.06" y1="82.35" x2="478.06" y2="81.57" stroke="#461858" stroke-width="0.8"/>
<line x1="476.86" y1="81.57" x2="479.26" y2="81.57" stroke="#461858" stroke-width="0.8"/>
<line x1="476.86" y1="82.35" x2="479.26" y2="82.35" stroke="#461858" stroke-width="0.8"/>
<polygon points="478.06,83.46 479.56,80.77 476.57,80.77" fill="#461858"/>
<line x1="467.66" y1="80.80" x2="467.66" y2="80.02" stroke="#461858" stroke-width="0.8"/>
<line x1="466.46" y1="80.02" x2="468.86" y2="80.02" stroke="#461858" stroke-width="0.8"/>
<line x1="466.46" y1="80.80" x2="468.86" y2="80.80" stroke="#461858" stroke-width="0.8"/>
<polygon points="467.66,81.90 469.15,79.21 466.16,79.21" fill="#461858"/>
<line x1="457.26" y1="68.73" x2="457.26" y2="67.17" stroke="#461858" stroke-width="0.8"/>
<line x1="456.06" y1="67.17" x2="458.46" y2="67.17" stroke="#461858" stroke-width="0.8"/>
<line x1="456.06" y1="68.73" x2="458.46" y2="68.73" stroke="#461858" stroke-width="0.8"/>
<polygon points="457.26,69.44 458.75,66.75 455.76,66.75" fill="#461858"/>
<line x1="446.86" y1="57.83" x2="446.86" y2="56.27" stroke="#461858" stroke-width="0.8"/>
<line x1="445.66" y1="56.27" x2="448.06" y2="56.27" stroke="#461858" stroke-width="0.8"/>
<line x1="445.66" y1="57.83" x2="448.06" y2="57.83" stroke="#461858" stroke-width="0.8"/>
<polygon points="446.86,58.54 448.35,55.85 445.36,55.85" fill="#461858"/>
<line x1="436.46" y1="52.77" x2="436.46" y2="48.87" stroke="#461858" stroke-width="0.8"/>
<line x1="435.26" y1="48.87" x2="437.66" y2="48.87" stroke="#461858" stroke-width="0.8"/>
<line x1="435.26" y1="52.77" x2="437.66" y2="52.77" stroke="#461858" stroke-width="0.8"/>
<polygon points="436.46,52.32 437.95,49.62 434.96,49.62" fill="#461858"/>
<line x1="426.05" y1="50.82" x2="426.05" y2="47.71" stroke="#461858" stroke-width="0.8"/>
<line x1="424.85" y1="47.71" x2="427.25" y2="47.71" stroke="#461858" stroke-width="0.8"/>
<line x1="424.85" y1="50.82" x2="427.25" y2="50.82" stroke="#461858" stroke-width="0.8"/>
<polygon points="426.05,50.76 427.55,48.07 424.56,48.07" fill="#461858"/>
<rect x="487.16" y="82.61" width="2.60" height="2.60" fill="#a8102a"/>
<line x1="478.06" y1="82.35" x2="478.06" y2="81.57" stroke="#a8102a" stroke-width="0.8"/>
<line x1="476.86" y1="81.57" x2="479.26" y2="81.57" stroke="#a8102a" stroke-width="0.8"/>
<line x1="476.86" y1="82.35" x2="479.26" y2="82.35" stroke="#a8102a" stroke-width="0.8"/>
<rect x="476.76" y="80.66" width="2.60" height="2.60" fill="#a8102a"/>
<line x1="467.66" y1="81.57" x2="467.66" y2="80.80" stroke="#a8102a" stroke-width="0.8"/>
<line x1="466.46" y1="80.80" x2="468.86" y2="80.80" stroke="#a8102a" stroke-width="0.8"/>
<line x1="466.46" y1="81.57" x2="468.86" y2="81.57" stroke="#a8102a" stroke-width="0.8"/>
<rect x="466.36" y="79.89" width="2.60" height="2.60" fill="#a8102a"/>
<line x1="457.26" y1="70.67" x2="457.26" y2="69.12" stroke="#a8102a" stroke-width="0.8"/>
<line x1="456.06" y1="69.12" x2="458.46" y2="69.12" stroke="#a8102a" stroke-width="0.8"/>
<line x1="456.06" y1="70.67" x2="458.46" y2="70.67" stroke="#a8102a" stroke-width="0.8"/>
<rect x="455.96" y="68.60" width="2.60" height="2.60" fill="#a8102a"/>
<line x1="446.86" y1="59.77" x2="446.86" y2="58.22" stroke="#a8102a" stroke-width="0.8"/>
<line x1="445.66" y1="58.22" x2="448.06" y2="58.22" stroke="#a8102a" stroke-width="0.8"/>
<line x1="445.66" y1="59.77" x2="448.06" y2="59.77" stroke="#a8102a" stroke-width="0.8"/>
<rect x="445.56" y="57.70" width="2.60" height="2.60" fill="#a8102a"/>
<line x1="436.46" y1="53.16" x2="436.46" y2="50.82" stroke="#a8102a" stroke-width="0.8"/>
<line x1="435.26" y1="50.82" x2="437.66" y2="50.82" stroke="#a8102a" stroke-width="0.8"/>
<line x1="435.26" y1="53.16" x2="437.66" y2="53.16" stroke="#a8102a" stroke-width="0.8"/>
<rect x="435.16" y="50.69" width="2.60" height="2.60" fill="#a8102a"/>
<line x1="426.05" y1="51.99" x2="426.05" y2="48.10" stroke="#a8102a" stroke-width="0.8"/>
<line x1="424.85" y1="48.10" x2="427.25" y2="48.10" stroke="#a8102a" stroke-width="0.8"/>
<line x1="424.85" y1="51.99" x2="427.25" y2="51.99" stroke="#a8102a" stroke-width="0.8"/>
<rect x="424.75" y="48.74" width="2.60" height="2.60" fill="#a8102a"/>
<circle cx="488.46" cy="83.91" r="1.30" fill="#142d5c"/>
<line x1="478.06" y1="81.57" x2="478.06" y2="80.80" stroke="#142d5c" stroke-width="0.8"/>
<line x1="476.86" y1="80.80" x2="479.26" y2="80.80" stroke="#142d5c" stroke-width="0.8"/>
<line x1="476.86" y1="81.57" x2="479.26" y2="81.57" stroke="#142d5c" stroke-width="0.8"/>
<circle cx="478.06" cy="81.19" r="1.30" fill="#142d5c"/>
<line x1="467.66" y1="80.41" x2="467.66" y2="78.85" stroke="#142d5c" stroke-width="0.8"/>
<line x1="466.46" y1="78.85" x2="468.86" y2="78.85" stroke="#142d5c" stroke-width="0.8"/>
<line x1="466.46" y1="80.41" x2="468.86" y2="80.41" stroke="#142d5c" stroke-width="0.8"/>
<circle cx="467.66" cy="79.63" r="1.30" fill="#142d5c"/>
<line x1="457.26" y1="65.61" x2="457.26" y2="64.06" stroke="#142d5c" stroke-width="0.8"/>
<line x1="456.06" y1="64.06" x2="458.46" y2="64.06" stroke="#142d5c" stroke-width="0.8"/>
<line x1="456.06" y1="65.61" x2="458.46" y2="65.61" stroke="#142d5c" stroke-width="0.8"/>
<circle cx="457.26" cy="64.83" r="1.30" fill="#142d5c"/>
<line x1="446.86" y1="53.55" x2="446.86" y2="51.99" stroke="#142d5c" stroke-width="0.8"/>
<line x1="445.66" y1="51.99" x2="448.06" y2="51.99" stroke="#142d5c" stroke-width="0.8"/>
<line x1="445.66" y1="53.55" x2="448.06" y2="53.55" stroke="#142d5c" stroke-width="0.8"/>
<circle cx="446.86" cy="52.77" r="1.30" fill="#142d5c"/>
<line x1="436.46" y1="49.65" x2="436.46" y2="48.10" stroke="#142d5c" stroke-width="0.8"/>
<line x1="435.26" y1="48.10" x2="437.66" y2="48.10" stroke="#142d5c" stroke-width="0.8"/>
<line x1="435.26" y1="49.65" x2="437.66" y2="49.65" stroke="#142d5c" stroke-width="0.8"/>
<circle cx="436.46" cy="48.87" r="1.30" fill="#142d5c"/>
<line x1="426.05" y1="49.26" x2="426.05" y2="46.93" stroke="#142d5c" stroke-width="0.8"/>
<line x1="424.85" y1="46.93" x2="427.25" y2="46.93" stroke="#142d5c" stroke-width="0.8"/>
<line x1="424.85" y1="49.26" x2="427.25" y2="49.26" stroke="#142d5c" stroke-width="0.8"/>
<circle cx="426.05" cy="48.10" r="1.30" fill="#142d5c"/>
<text x="192.10" y="333.20" font-size="8" text-anchor="middle" font-weight="normal" fill="#1a1a1a" stroke="#1a1a1a" stroke-width="0.3">ML2 &amp; AraC Curve</text>
<line x1="144.30" y1="340.50" x2="144.30" y2="402.00" stroke="#141414" stroke-width="1.3"/>
<line x1="141.50" y1="401.50" x2="144.30" y2="401.50" stroke="#141414" stroke-width="1"/>
<text x="139.10" y="403.50" font-size="5.6" text-anchor="end" font-weight="normal" fill="#1a1a1a" letter-spacing="0.25" stroke="#1a1a1a" stroke-width="0.18">0</text>
<line x1="141.50" y1="381.17" x2="144.30" y2="381.17" stroke="#141414" stroke-width="1"/>
<text x="139.10" y="383.17" font-size="5.6" text-anchor="end" font-weight="normal" fill="#1a1a1a" letter-spacing="0.25" stroke="#1a1a1a" stroke-width="0.18">50</text>
<line x1="141.50" y1="360.83" x2="144.30" y2="360.83" stroke="#141414" stroke-width="1"/>
<text x="139.10" y="362.83" font-size="5.6" text-anchor="end" font-weight="normal" fill="#1a1a1a" letter-spacing="0.25" stroke="#1a1a1a" stroke-width="0.18">100</text>
<line x1="141.50" y1="340.50" x2="144.30" y2="340.50" stroke="#141414" stroke-width="1"/>
<text x="139.10" y="342.50" font-size="5.6" text-anchor="end" font-weight="normal" fill="#1a1a1a" letter-spacing="0.25" stroke="#1a1a1a" stroke-width="0.18">150</text>
<line x1="143.80" y1="401.50" x2="238.30" y2="401.50" stroke="#141414" stroke-width="1.3"/>
<line x1="144.30" y1="401.50" x2="144.30" y2="403.70" stroke="#141414" stroke-width="1"/>
<text x="144.30" y="412.50" font-size="5.6" text-anchor="middle" font-weight="normal" fill="#1a1a1a" letter-spacing="0.25" stroke="#1a1a1a" stroke-width="0.18">1</text>
<line x1="174.70" y1="401.50" x2="174.70" y2="403.70" stroke="#141414" stroke-width="1"/>
<text x="174.70" y="412.50" font-size="5.6" text-anchor="middle" font-weight="normal" fill="#1a1a1a" letter-spacing="0.25" stroke="#1a1a1a" stroke-width="0.18">10</text>
<line x1="205.10" y1="401.50" x2="205.10" y2="403.70" stroke="#141414" stroke-width="1"/>
<text x="205.10" y="412.50" font-size="5.6" text-anchor="middle" font-weight="normal" fill="#1a1a1a" letter-spacing="0.25" stroke="#1a1a1a" stroke-width="0.18">100</text>
<line x1="235.50" y1="401.50" x2="235.50" y2="403.70" stroke="#141414" stroke-width="1"/>
<text x="235.50" y="412.50" font-size="5.6" text-anchor="middle" font-weight="normal" fill="#1a1a1a" letter-spacing="0.25" stroke="#1a1a1a" stroke-width="0.18">1000</text>
<text x="193.50" y="423.60" font-size="7.6" text-anchor="middle" font-weight="bold" fill="#1a1a1a" textLength="7.5" lengthAdjust="spacingAndGlyphs" stroke="#1a1a1a" stroke-width="0.18">uM</text>
<text x="122.80" y="371.00" font-size="7.5" text-anchor="middle" font-weight="bold" fill="#2a2a2a" transform="rotate(-90 122.80 371.00)" textLength="26.0" lengthAdjust="spacingAndGlyphs">Viability %</text>
<polyline points="159.3,376.4 160.7,377.3 162.1,378.2 163.5,379.2 164.8,380.1 166.2,381.1 167.6,382.0 169.0,383.0 170.3,383.9 171.7,384.8 173.1,385.7 174.4,386.6 175.8,387.5 177.2,388.4 178.6,389.2 179.9,390.0 181.3,390.7 182.7,391.4 184.1,392.1 185.4,392.8 186.8,393.4 188.2,394.0 189.5,394.6 190.9,395.1 192.3,395.6 193.7,396.0 195.0,396.5 196.4,396.9 197.8,397.2 199.2,397.6 200.5,397.9 201.9,398.2 203.3,398.5 204.6,398.7 206.0,398.9 207.4,399.2 208.8,399.4 210.1,399.5 211.5,399.7 212.9,399.9 214.3,400.0" fill="none" stroke="#3f9f3f" stroke-width="0.9"/>
<polyline points="159.3,375.0 160.7,375.9 162.1,376.8 163.5,377.7 164.8,378.6 166.2,379.6 167.6,380.5 169.0,381.5 170.3,382.4 171.7,383.3 173.1,384.3 174.4,385.2 175.8,386.1 177.2,387.0 178.6,387.9 179.9,388.7 181.3,389.5 182.7,390.3 184.1,391.0 185.4,391.7 186.8,392.4 188.2,393.0 189.5,393.7 190.9,394.2 192.3,394.8 193.7,395.3 195.0,395.8 196.4,396.2 197.8,396.6 199.2,397.0 200.5,397.4 201.9,397.7 203.3,398.0 204.6,398.3 206.0,398.6 207.4,398.8 208.8,399.0 210.1,399.2 211.5,399.4 212.9,399.6 214.3,399.8" fill="none" stroke="#5a2a72" stroke-width="0.9"/>
<polyline points="159.3,375.5 160.7,376.4 162.1,377.3 163.5,378.2 164.8,379.2 166.2,380.1 167.6,381.1 169.0,382.0 170.3,383.0 171.7,383.9 173.1,384.8 174.4,385.7 175.8,386.6 177.2,387.5 178.6,388.3 179.9,389.2 181.3,390.0 182.7,390.7 184.1,391.4 185.4,392.1 186.8,392.8 188.2,393.4 189.5,394.0 190.9,394.6 192.3,395.1 193.7,395.6 195.0,396.0 196.4,396.5 197.8,396.9 199.2,397.2 200.5,397.6 201.9,397.9 203.3,398.2 204.6,398.5 206.0,398.7 207.4,398.9 208.8,399.2 210.1,399.4 211.5,399.5 212.9,399.7 214.3,399.9" fill="none" stroke="#c0182e" stroke-width="0.9"/>
<polyline points="159.3,368.3 160.7,368.8 162.1,369.5 163.5,370.1 164.8,370.8 166.2,371.5 167.6,372.3 169.0,373.1 170.3,373.9 171.7,374.7 173.1,375.6 174.4,376.5 175.8,377.4 177.2,378.3 178.6,379.3 179.9,380.2 181.3,381.2 182.7,382.1 184.1,383.0 185.4,384.0 186.8,384.9 188.2,385.8 189.5,386.7 190.9,387.6 192.3,388.4 193.7,389.2 195.0,390.0 196.4,390.8 197.8,391.5 199.2,392.2 200.5,392.8 201.9,393.5 203.3,394.1 204.6,394.6 206.0,395.1 207.4,395.6 208.8,396.1 210.1,396.5 211.5,396.9 212.9,397.3 214.3,397.6" fill="none" stroke="#2f6aa5" stroke-width="0.9"/>
<line x1="159.34" y1="373.84" x2="159.34" y2="372.22" stroke="#2f8a2f" stroke-width="0.8"/>
<line x1="158.14" y1="372.22" x2="160.54" y2="372.22" stroke="#2f8a2f" stroke-width="0.8"/>
<line x1="158.14" y1="373.84" x2="160.54" y2="373.84" stroke="#2f8a2f" stroke-width="0.8"/>
<polygon points="159.34,371.54 160.84,374.23 157.85,374.23" fill="#2f8a2f"/>
<line x1="168.49" y1="383.61" x2="168.49" y2="381.98" stroke="#2f8a2f" stroke-width="0.8"/>
<line x1="167.29" y1="381.98" x2="169.69" y2="381.98" stroke="#2f8a2f" stroke-width="0.8"/>
<line x1="167.29" y1="383.61" x2="169.69" y2="383.61" stroke="#2f8a2f" stroke-width="0.8"/>
<polygon points="168.49,381.30 169.99,383.99 167.00,383.99" fill="#2f8a2f"/>
<line x1="177.65" y1="389.71" x2="177.65" y2="388.08" stroke="#2f8a2f" stroke-width="0.8"/>
<line x1="176.45" y1="388.08" x2="178.85" y2="388.08" stroke="#2f8a2f" stroke-width="0.8"/>
<line x1="176.45" y1="389.71" x2="178.85" y2="389.71" stroke="#2f8a2f" stroke-width="0.8"/>
<polygon points="177.65,387.40 179.14,390.09 176.15,390.09" fill="#2f8a2f"/>
<line x1="186.80" y1="392.15" x2="186.80" y2="390.52" stroke="#2f8a2f" stroke-width="0.8"/>
<line x1="185.60" y1="390.52" x2="188.00" y2="390.52" stroke="#2f8a2f" stroke-width="0.8"/>
<line x1="185.60" y1="392.15" x2="188.00" y2="392.15" stroke="#2f8a2f" stroke-width="0.8"/>
<polygon points="186.80,389.84 188.29,392.53 185.30,392.53" fill="#2f8a2f"/>
<line x1="195.95" y1="394.99" x2="195.95" y2="393.37" stroke="#2f8a2f" stroke-width="0.8"/>
<line x1="194.75" y1="393.37" x2="197.15" y2="393.37" stroke="#2f8a2f" stroke-width="0.8"/>
<line x1="194.75" y1="394.99" x2="197.15" y2="394.99" stroke="#2f8a2f" stroke-width="0.8"/>
<polygon points="195.95,392.68 197.44,395.38 194.45,395.38" fill="#2f8a2f"/>
<line x1="205.10" y1="397.43" x2="205.10" y2="395.81" stroke="#2f8a2f" stroke-width="0.8"/>
<line x1="203.90" y1="395.81" x2="206.30" y2="395.81" stroke="#2f8a2f" stroke-width="0.8"/>
<line x1="203.90" y1="397.43" x2="206.30" y2="397.43" stroke="#2f8a2f" stroke-width="0.8"/>
<polygon points="205.10,395.12 206.60,397.82 203.61,397.82" fill="#2f8a2f"/>
<line x1="214.25" y1="399.87" x2="214.25" y2="398.25" stroke="#2f8a2f" stroke-width="0.8"/>
<line x1="213.05" y1="398.25" x2="215.45" y2="398.25" stroke="#2f8a2f" stroke-width="0.8"/>
<line x1="213.05" y1="399.87" x2="215.45" y2="399.87" stroke="#2f8a2f" stroke-width="0.8"/>
<polygon points="214.25,397.56 215.75,400.26 212.76,400.26" fill="#2f8a2f"/>
<line x1="159.34" y1="374.66" x2="159.34" y2="373.03" stroke="#461858" stroke-width="0.8"/>
<line x1="158.14" y1="373.03" x2="160.54" y2="373.03" stroke="#461858" stroke-width="0.8"/>
<line x1="158.14" y1="374.66" x2="160.54" y2="374.66" stroke="#461858" stroke-width="0.8"/>
<polygon points="159.34,375.34 160.84,372.65 157.85,372.65" fill="#461858"/>
<line x1="168.49" y1="384.42" x2="168.49" y2="382.79" stroke="#461858" stroke-width="0.8"/>
<line x1="167.29" y1="382.79" x2="169.69" y2="382.79" stroke="#461858" stroke-width="0.8"/>
<line x1="167.29" y1="384.42" x2="169.69" y2="384.42" stroke="#461858" stroke-width="0.8"/>
<polygon points="168.49,385.10 169.99,382.41 167.00,382.41" fill="#461858"/>
<line x1="177.65" y1="390.52" x2="177.65" y2="388.89" stroke="#461858" stroke-width="0.8"/>
<line x1="176.45" y1="388.89" x2="178.85" y2="388.89" stroke="#461858" stroke-width="0.8"/>
<line x1="176.45" y1="390.52" x2="178.85" y2="390.52" stroke="#461858" stroke-width="0.8"/>
<polygon points="177.65,391.20 179.14,388.51 176.15,388.51" fill="#461858"/>
<line x1="186.80" y1="392.55" x2="186.80" y2="390.93" stroke="#461858" stroke-width="0.8"/>
<line x1="185.60" y1="390.93" x2="188.00" y2="390.93" stroke="#461858" stroke-width="0.8"/>
<line x1="185.60" y1="392.55" x2="188.00" y2="392.55" stroke="#461858" stroke-width="0.8"/>
<polygon points="186.80,393.23 188.29,390.54 185.30,390.54" fill="#461858"/>
<line x1="195.95" y1="395.40" x2="195.95" y2="393.77" stroke="#461858" stroke-width="0.8"/>
<line x1="194.75" y1="393.77" x2="197.15" y2="393.77" stroke="#461858" stroke-width="0.8"/>
<line x1="194.75" y1="395.40" x2="197.15" y2="395.40" stroke="#461858" stroke-width="0.8"/>
<polygon points="195.95,396.08 197.44,393.39 194.45,393.39" fill="#461858"/>
<line x1="205.10" y1="397.84" x2="205.10" y2="396.21" stroke="#461858" stroke-width="0.8"/>
<line x1="203.90" y1="396.21" x2="206.30" y2="396.21" stroke="#461858" stroke-width="0.8"/>
<line x1="203.90" y1="397.84" x2="206.30" y2="397.84" stroke="#461858" stroke-width="0.8"/>
<polygon points="205.10,398.52 206.60,395.83 203.61,395.83" fill="#461858"/>
<line x1="214.25" y1="399.87" x2="214.25" y2="398.25" stroke="#461858" stroke-width="0.8"/>
<line x1="213.05" y1="398.25" x2="215.45" y2="398.25" stroke="#461858" stroke-width="0.8"/>
<line x1="213.05" y1="399.87" x2="215.45" y2="399.87" stroke="#461858" stroke-width="0.8"/>
<polygon points="214.25,400.55 215.75,397.86 212.76,397.86" fill="#461858"/>
<line x1="159.34" y1="374.66" x2="159.34" y2="373.03" stroke="#a8102a" stroke-width="0.8"/>
<line x1="158.14" y1="373.03" x2="160.54" y2="373.03" stroke="#a8102a" stroke-width="0.8"/>
<line x1="158.14" y1="374.66" x2="160.54" y2="374.66" stroke="#a8102a" stroke-width="0.8"/>
<rect x="158.04" y="372.54" width="2.60" height="2.60" fill="#a8102a"/>
<line x1="168.49" y1="384.01" x2="168.49" y2="382.39" stroke="#a8102a" stroke-width="0.8"/>
<line x1="167.29" y1="382.39" x2="169.69" y2="382.39" stroke="#a8102a" stroke-width="0.8"/>
<line x1="167.29" y1="384.01" x2="169.69" y2="384.01" stroke="#a8102a" stroke-width="0.8"/>
<rect x="167.19" y="381.90" width="2.60" height="2.60" fill="#a8102a"/>
<line x1="177.65" y1="390.11" x2="177.65" y2="388.49" stroke="#a8102a" stroke-width="0.8"/>
<line x1="176.45" y1="388.49" x2="178.85" y2="388.49" stroke="#a8102a" stroke-width="0.8"/>
<line x1="176.45" y1="390.11" x2="178.85" y2="390.11" stroke="#a8102a" stroke-width="0.8"/>
<rect x="176.35" y="388.00" width="2.60" height="2.60" fill="#a8102a"/>
<line x1="186.80" y1="392.15" x2="186.80" y2="390.52" stroke="#a8102a" stroke-width="0.8"/>
<line x1="185.60" y1="390.52" x2="188.00" y2="390.52" stroke="#a8102a" stroke-width="0.8"/>
<line x1="185.60" y1="392.15" x2="188.00" y2="392.15" stroke="#a8102a" stroke-width="0.8"/>
<rect x="185.50" y="390.03" width="2.60" height="2.60" fill="#a8102a"/>
<line x1="195.95" y1="394.99" x2="195.95" y2="393.37" stroke="#a8102a" stroke-width="0.8"/>
<line x1="194.75" y1="393.37" x2="197.15" y2="393.37" stroke="#a8102a" stroke-width="0.8"/>
<line x1="194.75" y1="394.99" x2="197.15" y2="394.99" stroke="#a8102a" stroke-width="0.8"/>
<rect x="194.65" y="392.88" width="2.60" height="2.60" fill="#a8102a"/>
<line x1="205.10" y1="397.43" x2="205.10" y2="395.81" stroke="#a8102a" stroke-width="0.8"/>
<line x1="203.90" y1="395.81" x2="206.30" y2="395.81" stroke="#a8102a" stroke-width="0.8"/>
<line x1="203.90" y1="397.43" x2="206.30" y2="397.43" stroke="#a8102a" stroke-width="0.8"/>
<rect x="203.80" y="395.32" width="2.60" height="2.60" fill="#a8102a"/>
<line x1="214.25" y1="399.87" x2="214.25" y2="398.25" stroke="#a8102a" stroke-width="0.8"/>
<line x1="213.05" y1="398.25" x2="215.45" y2="398.25" stroke="#a8102a" stroke-width="0.8"/>
<line x1="213.05" y1="399.87" x2="215.45" y2="399.87" stroke="#a8102a" stroke-width="0.8"/>
<rect x="212.95" y="397.76" width="2.60" height="2.60" fill="#a8102a"/>
<line x1="159.34" y1="367.34" x2="159.34" y2="365.71" stroke="#142d5c" stroke-width="0.8"/>
<line x1="158.14" y1="365.71" x2="160.54" y2="365.71" stroke="#142d5c" stroke-width="0.8"/>
<line x1="158.14" y1="367.34" x2="160.54" y2="367.34" stroke="#142d5c" stroke-width="0.8"/>
<circle cx="159.34" cy="366.52" r="1.30" fill="#142d5c"/>
<line x1="168.49" y1="373.03" x2="168.49" y2="371.40" stroke="#142d5c" stroke-width="0.8"/>
<line x1="167.29" y1="371.40" x2="169.69" y2="371.40" stroke="#142d5c" stroke-width="0.8"/>
<line x1="167.29" y1="373.03" x2="169.69" y2="373.03" stroke="#142d5c" stroke-width="0.8"/>
<circle cx="168.49" cy="372.22" r="1.30" fill="#142d5c"/>
<line x1="177.65" y1="383.20" x2="177.65" y2="381.57" stroke="#142d5c" stroke-width="0.8"/>
<line x1="176.45" y1="381.57" x2="178.85" y2="381.57" stroke="#142d5c" stroke-width="0.8"/>
<line x1="176.45" y1="383.20" x2="178.85" y2="383.20" stroke="#142d5c" stroke-width="0.8"/>
<circle cx="177.65" cy="382.39" r="1.30" fill="#142d5c"/>
<line x1="186.80" y1="387.67" x2="186.80" y2="386.05" stroke="#142d5c" stroke-width="0.8"/>
<line x1="185.60" y1="386.05" x2="188.00" y2="386.05" stroke="#142d5c" stroke-width="0.8"/>
<line x1="185.60" y1="387.67" x2="188.00" y2="387.67" stroke="#142d5c" stroke-width="0.8"/>
<circle cx="186.80" cy="386.86" r="1.30" fill="#142d5c"/>
<line x1="195.95" y1="389.71" x2="195.95" y2="388.08" stroke="#142d5c" stroke-width="0.8"/>
<line x1="194.75" y1="388.08" x2="197.15" y2="388.08" stroke="#142d5c" stroke-width="0.8"/>
<line x1="194.75" y1="389.71" x2="197.15" y2="389.71" stroke="#142d5c" stroke-width="0.8"/>
<circle cx="195.95" cy="388.89" r="1.30" fill="#142d5c"/>
<line x1="205.10" y1="393.77" x2="205.10" y2="392.15" stroke="#142d5c" stroke-width="0.8"/>
<line x1="203.90" y1="392.15" x2="206.30" y2="392.15" stroke="#142d5c" stroke-width="0.8"/>
<line x1="203.90" y1="393.77" x2="206.30" y2="393.77" stroke="#142d5c" stroke-width="0.8"/>
<circle cx="205.10" cy="392.96" r="1.30" fill="#142d5c"/>
<line x1="214.25" y1="397.03" x2="214.25" y2="395.40" stroke="#142d5c" stroke-width="0.8"/>
<line x1="213.05" y1="395.40" x2="215.45" y2="395.40" stroke="#142d5c" stroke-width="0.8"/>
<line x1="213.05" y1="397.03" x2="215.45" y2="397.03" stroke="#142d5c" stroke-width="0.8"/>
<circle cx="214.25" cy="396.21" r="1.30" fill="#142d5c"/>
<text x="328.50" y="333.20" font-size="8" text-anchor="middle" font-weight="normal" fill="#1a1a1a" stroke="#1a1a1a" stroke-width="0.3">ML2 &amp; Dauno Curve</text>
<line x1="281.70" y1="340.50" x2="281.70" y2="402.00" stroke="#141414" stroke-width="1.3"/>
<line x1="278.90" y1="401.50" x2="281.70" y2="401.50" stroke="#141414" stroke-width="1"/>
<text x="276.50" y="403.50" font-size="5.6" text-anchor="end" font-weight="normal" fill="#1a1a1a" letter-spacing="0.25" stroke="#1a1a1a" stroke-width="0.18">0</text>
<line x1="278.90" y1="381.17" x2="281.70" y2="381.17" stroke="#141414" stroke-width="1"/>
<text x="276.50" y="383.17" font-size="5.6" text-anchor="end" font-weight="normal" fill="#1a1a1a" letter-spacing="0.25" stroke="#1a1a1a" stroke-width="0.18">50</text>
<line x1="278.90" y1="360.83" x2="281.70" y2="360.83" stroke="#141414" stroke-width="1"/>
<text x="276.50" y="362.83" font-size="5.6" text-anchor="end" font-weight="normal" fill="#1a1a1a" letter-spacing="0.25" stroke="#1a1a1a" stroke-width="0.18">100</text>
<line x1="278.90" y1="340.50" x2="281.70" y2="340.50" stroke="#141414" stroke-width="1"/>
<text x="276.50" y="342.50" font-size="5.6" text-anchor="end" font-weight="normal" fill="#1a1a1a" letter-spacing="0.25" stroke="#1a1a1a" stroke-width="0.18">150</text>
<line x1="281.20" y1="401.50" x2="376.10" y2="401.50" stroke="#141414" stroke-width="1.3"/>
<line x1="281.70" y1="401.50" x2="281.70" y2="403.70" stroke="#141414" stroke-width="1"/>
<text x="281.70" y="412.50" font-size="5.6" text-anchor="middle" font-weight="normal" fill="#1a1a1a" letter-spacing="0.25" stroke="#1a1a1a" stroke-width="0.18">0.01</text>
<line x1="312.30" y1="401.50" x2="312.30" y2="403.70" stroke="#141414" stroke-width="1"/>
<text x="312.30" y="412.50" font-size="5.6" text-anchor="middle" font-weight="normal" fill="#1a1a1a" letter-spacing="0.25" stroke="#1a1a1a" stroke-width="0.18">0.1</text>
<line x1="342.90" y1="401.50" x2="342.90" y2="403.70" stroke="#141414" stroke-width="1"/>
<text x="342.90" y="412.50" font-size="5.6" text-anchor="middle" font-weight="normal" fill="#1a1a1a" letter-spacing="0.25" stroke="#1a1a1a" stroke-width="0.18">1</text>
<line x1="373.50" y1="401.50" x2="373.50" y2="403.70" stroke="#141414" stroke-width="1"/>
<text x="373.50" y="412.50" font-size="5.6" text-anchor="middle" font-weight="normal" fill="#1a1a1a" letter-spacing="0.25" stroke="#1a1a1a" stroke-width="0.18">10</text>
<text x="326.10" y="423.60" font-size="7.6" text-anchor="middle" font-weight="bold" fill="#1a1a1a" textLength="7.5" lengthAdjust="spacingAndGlyphs" stroke="#1a1a1a" stroke-width="0.18">uM</text>
<text x="260.20" y="371.00" font-size="7.5" text-anchor="middle" font-weight="bold" fill="#2a2a2a" transform="rotate(-90 260.20 371.00)" textLength="26.0" lengthAdjust="spacingAndGlyphs">Viability %</text>
<polyline points="296.8,362.3 298.2,362.6 299.6,362.9 301.0,363.3 302.4,363.9 303.8,364.5 305.1,365.3 306.5,366.3 307.9,367.5 309.3,368.8 310.7,370.4 312.0,372.2 313.4,374.2 314.8,376.4 316.2,378.7 317.6,381.1 319.0,383.5 320.3,385.9 321.7,388.1 323.1,390.1 324.5,392.0 325.9,393.6 327.2,395.0 328.6,396.2 330.0,397.2 331.4,398.1 332.8,398.7 334.1,399.3 335.5,399.7 336.9,400.1 338.3,400.4 339.7,400.6 341.1,400.8 342.4,401.0 343.8,401.1 345.2,401.2 346.6,401.2 348.0,401.3 349.3,401.3 350.7,401.4 352.1,401.4" fill="none" stroke="#3f9f3f" stroke-width="0.9"/>
<polyline points="296.8,362.6 298.2,362.9 299.6,363.4 301.0,363.9 302.4,364.6 303.8,365.4 305.1,366.3 306.5,367.5 307.9,368.9 309.3,370.4 310.7,372.3 312.0,374.3 313.4,376.5 314.8,378.8 316.2,381.2 317.6,383.6 319.0,385.9 320.3,388.1 321.7,390.2 323.1,392.0 324.5,393.6 325.9,395.0 327.2,396.2 328.6,397.2 330.0,398.1 331.4,398.7 332.8,399.3 334.1,399.7 335.5,400.1 336.9,400.4 338.3,400.6 339.7,400.8 341.1,401.0 342.4,401.1 343.8,401.2 345.2,401.2 346.6,401.3 348.0,401.3 349.3,401.4 350.7,401.4 352.1,401.4" fill="none" stroke="#5a2a72" stroke-width="0.9"/>
<polyline points="296.8,362.2 298.2,362.5 299.6,362.8 301.0,363.2 302.4,363.7 303.8,364.3 305.1,365.0 306.5,365.9 307.9,367.0 309.3,368.3 310.7,369.8 312.0,371.6 313.4,373.5 314.8,375.6 316.2,377.9 317.6,380.3 319.0,382.7 320.3,385.1 321.7,387.3 323.1,389.4 324.5,391.4 325.9,393.1 327.2,394.5 328.6,395.8 330.0,396.9 331.4,397.8 332.8,398.5 334.1,399.1 335.5,399.6 336.9,400.0 338.3,400.3 339.7,400.5 341.1,400.7 342.4,400.9 343.8,401.0 345.2,401.1 346.6,401.2 348.0,401.3 349.3,401.3 350.7,401.4 352.1,401.4" fill="none" stroke="#c0182e" stroke-width="0.9"/>
<polyline points="296.8,360.4 298.2,360.5 299.6,360.5 301.0,360.5 302.4,360.5 303.8,360.5 305.1,360.6 306.5,360.7 307.9,360.7 309.3,360.8 310.7,361.0 312.0,361.2 313.4,361.5 314.8,361.9 316.2,362.4 317.6,363.0 319.0,363.9 320.3,365.0 321.7,366.5 323.1,368.2 324.5,370.4 325.9,372.9 327.2,375.8 328.6,378.9 330.0,382.1 331.4,385.2 332.8,388.2 334.1,390.8 335.5,393.1 336.9,395.0 338.3,396.5 339.7,397.7 341.1,398.7 342.4,399.4 343.8,399.9 345.2,400.3 346.6,400.6 348.0,400.9 349.3,401.0 350.7,401.2 352.1,401.3" fill="none" stroke="#2f6aa5" stroke-width="0.9"/>
<line x1="296.84" y1="360.42" x2="296.84" y2="357.98" stroke="#2f8a2f" stroke-width="0.8"/>
<line x1="295.64" y1="357.98" x2="298.04" y2="357.98" stroke="#2f8a2f" stroke-width="0.8"/>
<line x1="295.64" y1="360.42" x2="298.04" y2="360.42" stroke="#2f8a2f" stroke-width="0.8"/>
<polygon points="296.84,357.71 298.34,360.40 295.35,360.40" fill="#2f8a2f"/>
<line x1="306.05" y1="365.30" x2="306.05" y2="362.86" stroke="#2f8a2f" stroke-width="0.8"/>
<line x1="304.85" y1="362.86" x2="307.25" y2="362.86" stroke="#2f8a2f" stroke-width="0.8"/>
<line x1="304.85" y1="365.30" x2="307.25" y2="365.30" stroke="#2f8a2f" stroke-width="0.8"/>
<polygon points="306.05,362.59 307.55,365.28 304.56,365.28" fill="#2f8a2f"/>
<line x1="315.27" y1="382.79" x2="315.27" y2="379.54" stroke="#2f8a2f" stroke-width="0.8"/>
<line x1="314.07" y1="379.54" x2="316.47" y2="379.54" stroke="#2f8a2f" stroke-width="0.8"/>
<line x1="314.07" y1="382.79" x2="316.47" y2="382.79" stroke="#2f8a2f" stroke-width="0.8"/>
<polygon points="315.27,379.67 316.76,382.36 313.77,382.36" fill="#2f8a2f"/>
<line x1="324.48" y1="392.55" x2="324.48" y2="390.93" stroke="#2f8a2f" stroke-width="0.8"/>
<line x1="323.28" y1="390.93" x2="325.68" y2="390.93" stroke="#2f8a2f" stroke-width="0.8"/>
<line x1="323.28" y1="392.55" x2="325.68" y2="392.55" stroke="#2f8a2f" stroke-width="0.8"/>
<polygon points="324.48,390.24 325.97,392.94 322.98,392.94" fill="#2f8a2f"/>
<line x1="333.69" y1="394.99" x2="333.69" y2="393.37" stroke="#2f8a2f" stroke-width="0.8"/>
<line x1="332.49" y1="393.37" x2="334.89" y2="393.37" stroke="#2f8a2f" stroke-width="0.8"/>
<line x1="332.49" y1="394.99" x2="334.89" y2="394.99" stroke="#2f8a2f" stroke-width="0.8"/>
<polygon points="333.69,392.68 335.18,395.38 332.19,395.38" fill="#2f8a2f"/>
<line x1="342.90" y1="399.06" x2="342.90" y2="397.43" stroke="#2f8a2f" stroke-width="0.8"/>
<line x1="341.70" y1="397.43" x2="344.10" y2="397.43" stroke="#2f8a2f" stroke-width="0.8"/>
<line x1="341.70" y1="399.06" x2="344.10" y2="399.06" stroke="#2f8a2f" stroke-width="0.8"/>
<polygon points="342.90,396.75 344.39,399.44 341.40,399.44" fill="#2f8a2f"/>
<line x1="352.11" y1="401.91" x2="352.11" y2="401.09" stroke="#2f8a2f" stroke-width="0.8"/>
<line x1="350.91" y1="401.09" x2="353.31" y2="401.09" stroke="#2f8a2f" stroke-width="0.8"/>
<line x1="350.91" y1="401.91" x2="353.31" y2="401.91" stroke="#2f8a2f" stroke-width="0.8"/>
<polygon points="352.11,400.00 353.61,402.70 350.62,402.70" fill="#2f8a2f"/>
<line x1="296.84" y1="359.61" x2="296.84" y2="357.17" stroke="#461858" stroke-width="0.8"/>
<line x1="295.64" y1="357.17" x2="298.04" y2="357.17" stroke="#461858" stroke-width="0.8"/>
<line x1="295.64" y1="359.61" x2="298.04" y2="359.61" stroke="#461858" stroke-width="0.8"/>
<polygon points="296.84,359.88 298.34,357.19 295.35,357.19" fill="#461858"/>
<line x1="306.05" y1="363.27" x2="306.05" y2="360.83" stroke="#461858" stroke-width="0.8"/>
<line x1="304.85" y1="360.83" x2="307.25" y2="360.83" stroke="#461858" stroke-width="0.8"/>
<line x1="304.85" y1="363.27" x2="307.25" y2="363.27" stroke="#461858" stroke-width="0.8"/>
<polygon points="306.05,363.55 307.55,360.85 304.56,360.85" fill="#461858"/>
<line x1="315.27" y1="380.76" x2="315.27" y2="377.50" stroke="#461858" stroke-width="0.8"/>
<line x1="314.07" y1="377.50" x2="316.47" y2="377.50" stroke="#461858" stroke-width="0.8"/>
<line x1="314.07" y1="380.76" x2="316.47" y2="380.76" stroke="#461858" stroke-width="0.8"/>
<polygon points="315.27,380.63 316.76,377.94 313.77,377.94" fill="#461858"/>
<line x1="324.48" y1="392.15" x2="324.48" y2="390.52" stroke="#461858" stroke-width="0.8"/>
<line x1="323.28" y1="390.52" x2="325.68" y2="390.52" stroke="#461858" stroke-width="0.8"/>
<line x1="323.28" y1="392.15" x2="325.68" y2="392.15" stroke="#461858" stroke-width="0.8"/>
<polygon points="324.48,392.83 325.97,390.14 322.98,390.14" fill="#461858"/>
<line x1="333.69" y1="394.59" x2="333.69" y2="392.96" stroke="#461858" stroke-width="0.8"/>
<line x1="332.49" y1="392.96" x2="334.89" y2="392.96" stroke="#461858" stroke-width="0.8"/>
<line x1="332.49" y1="394.59" x2="334.89" y2="394.59" stroke="#461858" stroke-width="0.8"/>
<polygon points="333.69,395.27 335.18,392.58 332.19,392.58" fill="#461858"/>
<line x1="342.90" y1="398.65" x2="342.90" y2="397.03" stroke="#461858" stroke-width="0.8"/>
<line x1="341.70" y1="397.03" x2="344.10" y2="397.03" stroke="#461858" stroke-width="0.8"/>
<line x1="341.70" y1="398.65" x2="344.10" y2="398.65" stroke="#461858" stroke-width="0.8"/>
<polygon points="342.90,399.33 344.39,396.64 341.40,396.64" fill="#461858"/>
<line x1="352.11" y1="401.91" x2="352.11" y2="401.09" stroke="#461858" stroke-width="0.8"/>
<line x1="350.91" y1="401.09" x2="353.31" y2="401.09" stroke="#461858" stroke-width="0.8"/>
<line x1="350.91" y1="401.91" x2="353.31" y2="401.91" stroke="#461858" stroke-width="0.8"/>
<polygon points="352.11,403.00 353.61,400.30 350.62,400.30" fill="#461858"/>
<line x1="296.84" y1="359.20" x2="296.84" y2="356.76" stroke="#a8102a" stroke-width="0.8"/>
<line x1="295.64" y1="356.76" x2="298.04" y2="356.76" stroke="#a8102a" stroke-width="0.8"/>
<line x1="295.64" y1="359.20" x2="298.04" y2="359.20" stroke="#a8102a" stroke-width="0.8"/>
<rect x="295.54" y="356.68" width="2.60" height="2.60" fill="#a8102a"/>
<line x1="306.05" y1="362.05" x2="306.05" y2="359.61" stroke="#a8102a" stroke-width="0.8"/>
<line x1="304.85" y1="359.61" x2="307.25" y2="359.61" stroke="#a8102a" stroke-width="0.8"/>
<line x1="304.85" y1="362.05" x2="307.25" y2="362.05" stroke="#a8102a" stroke-width="0.8"/>
<rect x="304.75" y="359.53" width="2.60" height="2.60" fill="#a8102a"/>
<line x1="315.27" y1="381.57" x2="315.27" y2="378.32" stroke="#a8102a" stroke-width="0.8"/>
<line x1="314.07" y1="378.32" x2="316.47" y2="378.32" stroke="#a8102a" stroke-width="0.8"/>
<line x1="314.07" y1="381.57" x2="316.47" y2="381.57" stroke="#a8102a" stroke-width="0.8"/>
<rect x="313.97" y="378.64" width="2.60" height="2.60" fill="#a8102a"/>
<line x1="324.48" y1="392.15" x2="324.48" y2="390.52" stroke="#a8102a" stroke-width="0.8"/>
<line x1="323.28" y1="390.52" x2="325.68" y2="390.52" stroke="#a8102a" stroke-width="0.8"/>
<line x1="323.28" y1="392.15" x2="325.68" y2="392.15" stroke="#a8102a" stroke-width="0.8"/>
<rect x="323.18" y="390.03" width="2.60" height="2.60" fill="#a8102a"/>
<line x1="333.69" y1="394.18" x2="333.69" y2="392.55" stroke="#a8102a" stroke-width="0.8"/>
<line x1="332.49" y1="392.55" x2="334.89" y2="392.55" stroke="#a8102a" stroke-width="0.8"/>
<line x1="332.49" y1="394.18" x2="334.89" y2="394.18" stroke="#a8102a" stroke-width="0.8"/>
<rect x="332.39" y="392.07" width="2.60" height="2.60" fill="#a8102a"/>
<line x1="342.90" y1="398.25" x2="342.90" y2="396.62" stroke="#a8102a" stroke-width="0.8"/>
<line x1="341.70" y1="396.62" x2="344.10" y2="396.62" stroke="#a8102a" stroke-width="0.8"/>
<line x1="341.70" y1="398.25" x2="344.10" y2="398.25" stroke="#a8102a" stroke-width="0.8"/>
<rect x="341.60" y="396.13" width="2.60" height="2.60" fill="#a8102a"/>
<line x1="352.11" y1="401.91" x2="352.11" y2="401.09" stroke="#a8102a" stroke-width="0.8"/>
<line x1="350.91" y1="401.09" x2="353.31" y2="401.09" stroke="#a8102a" stroke-width="0.8"/>
<line x1="350.91" y1="401.91" x2="353.31" y2="401.91" stroke="#a8102a" stroke-width="0.8"/>
<rect x="350.81" y="400.20" width="2.60" height="2.60" fill="#a8102a"/>
<line x1="296.84" y1="357.17" x2="296.84" y2="354.73" stroke="#142d5c" stroke-width="0.8"/>
<line x1="295.64" y1="354.73" x2="298.04" y2="354.73" stroke="#142d5c" stroke-width="0.8"/>
<line x1="295.64" y1="357.17" x2="298.04" y2="357.17" stroke="#142d5c" stroke-width="0.8"/>
<circle cx="296.84" cy="355.95" r="1.30" fill="#142d5c"/>
<line x1="306.05" y1="355.95" x2="306.05" y2="353.51" stroke="#142d5c" stroke-width="0.8"/>
<line x1="304.85" y1="353.51" x2="307.25" y2="353.51" stroke="#142d5c" stroke-width="0.8"/>
<line x1="304.85" y1="355.95" x2="307.25" y2="355.95" stroke="#142d5c" stroke-width="0.8"/>
<circle cx="306.05" cy="354.73" r="1.30" fill="#142d5c"/>
<line x1="315.27" y1="356.36" x2="315.27" y2="351.48" stroke="#142d5c" stroke-width="0.8"/>
<line x1="314.07" y1="351.48" x2="316.47" y2="351.48" stroke="#142d5c" stroke-width="0.8"/>
<line x1="314.07" y1="356.36" x2="316.47" y2="356.36" stroke="#142d5c" stroke-width="0.8"/>
<circle cx="315.27" cy="353.92" r="1.30" fill="#142d5c"/>
<line x1="324.48" y1="375.06" x2="324.48" y2="372.62" stroke="#142d5c" stroke-width="0.8"/>
<line x1="323.28" y1="372.62" x2="325.68" y2="372.62" stroke="#142d5c" stroke-width="0.8"/>
<line x1="323.28" y1="375.06" x2="325.68" y2="375.06" stroke="#142d5c" stroke-width="0.8"/>
<circle cx="324.48" cy="373.84" r="1.30" fill="#142d5c"/>
<line x1="333.69" y1="391.74" x2="333.69" y2="389.30" stroke="#142d5c" stroke-width="0.8"/>
<line x1="332.49" y1="389.30" x2="334.89" y2="389.30" stroke="#142d5c" stroke-width="0.8"/>
<line x1="332.49" y1="391.74" x2="334.89" y2="391.74" stroke="#142d5c" stroke-width="0.8"/>
<circle cx="333.69" cy="390.52" r="1.30" fill="#142d5c"/>
<line x1="342.90" y1="394.59" x2="342.90" y2="392.96" stroke="#142d5c" stroke-width="0.8"/>
<line x1="341.70" y1="392.96" x2="344.10" y2="392.96" stroke="#142d5c" stroke-width="0.8"/>
<line x1="341.70" y1="394.59" x2="344.10" y2="394.59" stroke="#142d5c" stroke-width="0.8"/>
<circle cx="342.90" cy="393.77" r="1.30" fill="#142d5c"/>
<line x1="352.11" y1="401.91" x2="352.11" y2="401.09" stroke="#142d5c" stroke-width="0.8"/>
<line x1="350.91" y1="401.09" x2="353.31" y2="401.09" stroke="#142d5c" stroke-width="0.8"/>
<line x1="350.91" y1="401.91" x2="353.31" y2="401.91" stroke="#142d5c" stroke-width="0.8"/>
<circle cx="352.11" cy="401.50" r="1.30" fill="#142d5c"/>
<text x="464.00" y="333.20" font-size="8" text-anchor="middle" font-weight="normal" fill="#1a1a1a" stroke="#1a1a1a" stroke-width="0.3">ML2 &amp; Etop Curve</text>
<line x1="416.60" y1="340.50" x2="416.60" y2="402.00" stroke="#141414" stroke-width="1.3"/>
<line x1="413.80" y1="401.50" x2="416.60" y2="401.50" stroke="#141414" stroke-width="1"/>
<text x="411.40" y="403.50" font-size="5.6" text-anchor="end" font-weight="normal" fill="#1a1a1a" letter-spacing="0.25" stroke="#1a1a1a" stroke-width="0.18">0</text>
<line x1="413.80" y1="381.17" x2="416.60" y2="381.17" stroke="#141414" stroke-width="1"/>
<text x="411.40" y="383.17" font-size="5.6" text-anchor="end" font-weight="normal" fill="#1a1a1a" letter-spacing="0.25" stroke="#1a1a1a" stroke-width="0.18">50</text>
<line x1="413.80" y1="360.83" x2="416.60" y2="360.83" stroke="#141414" stroke-width="1"/>
<text x="411.40" y="362.83" font-size="5.6" text-anchor="end" font-weight="normal" fill="#1a1a1a" letter-spacing="0.25" stroke="#1a1a1a" stroke-width="0.18">100</text>
<line x1="413.80" y1="340.50" x2="416.60" y2="340.50" stroke="#141414" stroke-width="1"/>
<text x="411.40" y="342.50" font-size="5.6" text-anchor="end" font-weight="normal" fill="#1a1a1a" letter-spacing="0.25" stroke="#1a1a1a" stroke-width="0.18">150</text>
<line x1="416.10" y1="401.50" x2="510.60" y2="401.50" stroke="#141414" stroke-width="1.3"/>
<line x1="416.60" y1="401.50" x2="416.60" y2="403.70" stroke="#141414" stroke-width="1"/>
<text x="416.60" y="412.50" font-size="5.6" text-anchor="middle" font-weight="normal" fill="#1a1a1a" letter-spacing="0.25" stroke="#1a1a1a" stroke-width="0.18">0.1</text>
<line x1="447.40" y1="401.50" x2="447.40" y2="403.70" stroke="#141414" stroke-width="1"/>
<text x="447.40" y="412.50" font-size="5.6" text-anchor="middle" font-weight="normal" fill="#1a1a1a" letter-spacing="0.25" stroke="#1a1a1a" stroke-width="0.18">1</text>
<line x1="478.20" y1="401.50" x2="478.20" y2="403.70" stroke="#141414" stroke-width="1"/>
<text x="478.20" y="412.50" font-size="5.6" text-anchor="middle" font-weight="normal" fill="#1a1a1a" letter-spacing="0.25" stroke="#1a1a1a" stroke-width="0.18">10</text>
<line x1="509.00" y1="401.50" x2="509.00" y2="403.70" stroke="#141414" stroke-width="1"/>
<text x="509.00" y="412.50" font-size="5.6" text-anchor="middle" font-weight="normal" fill="#1a1a1a" letter-spacing="0.25" stroke="#1a1a1a" stroke-width="0.18">100</text>
<text x="462.10" y="423.60" font-size="7.6" text-anchor="middle" font-weight="bold" fill="#1a1a1a" textLength="7.5" lengthAdjust="spacingAndGlyphs" stroke="#1a1a1a" stroke-width="0.18">uM</text>
<text x="395.10" y="371.00" font-size="7.5" text-anchor="middle" font-weight="bold" fill="#2a2a2a" transform="rotate(-90 395.10 371.00)" textLength="26.0" lengthAdjust="spacingAndGlyphs">Viability %</text>
<polyline points="440.1,363.5 441.3,363.6 442.5,363.8 443.7,364.0 444.8,364.2 446.0,364.5 447.2,364.8 448.4,365.1 449.5,365.6 450.7,366.1 451.9,366.6 453.1,367.3 454.3,368.1 455.4,369.0 456.6,370.0 457.8,371.1 459.0,372.3 460.2,373.7 461.3,375.1 462.5,376.7 463.7,378.3 464.9,379.9 466.1,381.6 467.2,383.3 468.4,384.9 469.6,386.5 470.8,387.9 472.0,389.3 473.1,390.6 474.3,391.7 475.5,392.7 476.7,393.6 477.9,394.4 479.0,395.1 480.2,395.7 481.4,396.3 482.6,396.7 483.7,397.1 484.9,397.4 486.1,397.7 487.3,397.9" fill="none" stroke="#3f9f3f" stroke-width="0.9"/>
<polyline points="440.1,364.2 441.3,364.4 442.5,364.6 443.7,364.9 444.8,365.2 446.0,365.5 447.2,365.9 448.4,366.4 449.5,366.9 450.7,367.6 451.9,368.3 453.1,369.1 454.3,370.0 455.4,371.0 456.6,372.1 457.8,373.4 459.0,374.7 460.2,376.1 461.3,377.6 462.5,379.2 463.7,380.8 464.9,382.3 466.1,383.9 467.2,385.5 468.4,386.9 469.6,388.3 470.8,389.7 472.0,390.9 473.1,392.0 474.3,393.0 475.5,393.9 476.7,394.6 477.9,395.3 479.0,395.9 480.2,396.5 481.4,396.9 482.6,397.3 483.7,397.6 484.9,397.9 486.1,398.2 487.3,398.4" fill="none" stroke="#5a2a72" stroke-width="0.9"/>
<polyline points="440.1,364.9 441.3,365.1 442.5,365.4 443.7,365.7 444.8,366.1 446.0,366.5 447.2,367.0 448.4,367.6 449.5,368.2 450.7,369.0 451.9,369.8 453.1,370.8 454.3,371.8 455.4,373.0 456.6,374.3 457.8,375.6 459.0,377.1 460.2,378.6 461.3,380.2 462.5,381.8 463.7,383.3 464.9,384.9 466.1,386.4 467.2,387.9 468.4,389.3 469.6,390.5 470.8,391.7 472.0,392.8 473.1,393.7 474.3,394.6 475.5,395.3 476.7,396.0 477.9,396.5 479.0,397.0 480.2,397.5 481.4,397.8 482.6,398.1 483.7,398.4 484.9,398.6 486.1,398.8 487.3,399.0" fill="none" stroke="#c0182e" stroke-width="0.9"/>
<polyline points="440.1,363.3 441.3,363.4 442.5,363.5 443.7,363.6 444.8,363.7 446.0,363.9 447.2,364.1 448.4,364.4 449.5,364.7 450.7,365.1 451.9,365.5 453.1,366.0 454.3,366.6 455.4,367.3 456.6,368.1 457.8,369.1 459.0,370.1 460.2,371.3 461.3,372.6 462.5,374.0 463.7,375.6 464.9,377.2 466.1,378.9 467.2,380.6 468.4,382.3 469.6,384.0 470.8,385.6 472.0,387.1 473.1,388.5 474.3,389.8 475.5,391.0 476.7,392.1 477.9,393.0 479.0,393.8 480.2,394.5 481.4,395.1 482.6,395.6 483.7,396.1 484.9,396.4 486.1,396.7 487.3,397.0" fill="none" stroke="#2f6aa5" stroke-width="0.9"/>
<line x1="440.11" y1="360.02" x2="440.11" y2="353.51" stroke="#2f8a2f" stroke-width="0.8"/>
<line x1="438.91" y1="353.51" x2="441.31" y2="353.51" stroke="#2f8a2f" stroke-width="0.8"/>
<line x1="438.91" y1="360.02" x2="441.31" y2="360.02" stroke="#2f8a2f" stroke-width="0.8"/>
<polygon points="440.11,355.27 441.61,357.96 438.62,357.96" fill="#2f8a2f"/>
<line x1="447.98" y1="364.08" x2="447.98" y2="361.64" stroke="#2f8a2f" stroke-width="0.8"/>
<line x1="446.78" y1="361.64" x2="449.18" y2="361.64" stroke="#2f8a2f" stroke-width="0.8"/>
<line x1="446.78" y1="364.08" x2="449.18" y2="364.08" stroke="#2f8a2f" stroke-width="0.8"/>
<polygon points="447.98,361.37 449.47,364.06 446.48,364.06" fill="#2f8a2f"/>
<line x1="455.84" y1="368.15" x2="455.84" y2="365.71" stroke="#2f8a2f" stroke-width="0.8"/>
<line x1="454.64" y1="365.71" x2="457.04" y2="365.71" stroke="#2f8a2f" stroke-width="0.8"/>
<line x1="454.64" y1="368.15" x2="457.04" y2="368.15" stroke="#2f8a2f" stroke-width="0.8"/>
<polygon points="455.84,365.44 457.33,368.13 454.34,368.13" fill="#2f8a2f"/>
<line x1="463.70" y1="383.20" x2="463.70" y2="380.76" stroke="#2f8a2f" stroke-width="0.8"/>
<line x1="462.50" y1="380.76" x2="464.90" y2="380.76" stroke="#2f8a2f" stroke-width="0.8"/>
<line x1="462.50" y1="383.20" x2="464.90" y2="383.20" stroke="#2f8a2f" stroke-width="0.8"/>
<polygon points="463.70,380.48 465.20,383.17 462.21,383.17" fill="#2f8a2f"/>
<line x1="471.56" y1="388.89" x2="471.56" y2="387.27" stroke="#2f8a2f" stroke-width="0.8"/>
<line x1="470.36" y1="387.27" x2="472.76" y2="387.27" stroke="#2f8a2f" stroke-width="0.8"/>
<line x1="470.36" y1="388.89" x2="472.76" y2="388.89" stroke="#2f8a2f" stroke-width="0.8"/>
<polygon points="471.56,386.58 473.06,389.27 470.07,389.27" fill="#2f8a2f"/>
<line x1="479.43" y1="393.37" x2="479.43" y2="391.74" stroke="#2f8a2f" stroke-width="0.8"/>
<line x1="478.23" y1="391.74" x2="480.63" y2="391.74" stroke="#2f8a2f" stroke-width="0.8"/>
<line x1="478.23" y1="393.37" x2="480.63" y2="393.37" stroke="#2f8a2f" stroke-width="0.8"/>
<polygon points="479.43,391.06 480.92,393.75 477.93,393.75" fill="#2f8a2f"/>
<line x1="487.29" y1="394.18" x2="487.29" y2="391.74" stroke="#2f8a2f" stroke-width="0.8"/>
<line x1="486.09" y1="391.74" x2="488.49" y2="391.74" stroke="#2f8a2f" stroke-width="0.8"/>
<line x1="486.09" y1="394.18" x2="488.49" y2="394.18" stroke="#2f8a2f" stroke-width="0.8"/>
<polygon points="487.29,391.46 488.78,394.16 485.79,394.16" fill="#2f8a2f"/>
<line x1="440.11" y1="361.64" x2="440.11" y2="357.58" stroke="#461858" stroke-width="0.8"/>
<line x1="438.91" y1="357.58" x2="441.31" y2="357.58" stroke="#461858" stroke-width="0.8"/>
<line x1="438.91" y1="361.64" x2="441.31" y2="361.64" stroke="#461858" stroke-width="0.8"/>
<polygon points="440.11,361.10 441.61,358.41 438.62,358.41" fill="#461858"/>
<line x1="447.98" y1="365.30" x2="447.98" y2="362.86" stroke="#461858" stroke-width="0.8"/>
<line x1="446.78" y1="362.86" x2="449.18" y2="362.86" stroke="#461858" stroke-width="0.8"/>
<line x1="446.78" y1="365.30" x2="449.18" y2="365.30" stroke="#461858" stroke-width="0.8"/>
<polygon points="447.98,365.58 449.47,362.89 446.48,362.89" fill="#461858"/>
<line x1="455.84" y1="369.37" x2="455.84" y2="366.93" stroke="#461858" stroke-width="0.8"/>
<line x1="454.64" y1="366.93" x2="457.04" y2="366.93" stroke="#461858" stroke-width="0.8"/>
<line x1="454.64" y1="369.37" x2="457.04" y2="369.37" stroke="#461858" stroke-width="0.8"/>
<polygon points="455.84,369.65 457.33,366.95 454.34,366.95" fill="#461858"/>
<line x1="463.70" y1="384.42" x2="463.70" y2="381.98" stroke="#461858" stroke-width="0.8"/>
<line x1="462.50" y1="381.98" x2="464.90" y2="381.98" stroke="#461858" stroke-width="0.8"/>
<line x1="462.50" y1="384.42" x2="464.90" y2="384.42" stroke="#461858" stroke-width="0.8"/>
<polygon points="463.70,384.69 465.20,382.00 462.21,382.00" fill="#461858"/>
<line x1="471.56" y1="390.11" x2="471.56" y2="388.49" stroke="#461858" stroke-width="0.8"/>
<line x1="470.36" y1="388.49" x2="472.76" y2="388.49" stroke="#461858" stroke-width="0.8"/>
<line x1="470.36" y1="390.11" x2="472.76" y2="390.11" stroke="#461858" stroke-width="0.8"/>
<polygon points="471.56,390.79 473.06,388.10 470.07,388.10" fill="#461858"/>
<line x1="479.43" y1="393.77" x2="479.43" y2="392.15" stroke="#461858" stroke-width="0.8"/>
<line x1="478.23" y1="392.15" x2="480.63" y2="392.15" stroke="#461858" stroke-width="0.8"/>
<line x1="478.23" y1="393.77" x2="480.63" y2="393.77" stroke="#461858" stroke-width="0.8"/>
<polygon points="479.43,394.45 480.92,391.76 477.93,391.76" fill="#461858"/>
<line x1="487.29" y1="394.59" x2="487.29" y2="392.15" stroke="#461858" stroke-width="0.8"/>
<line x1="486.09" y1="392.15" x2="488.49" y2="392.15" stroke="#461858" stroke-width="0.8"/>
<line x1="486.09" y1="394.59" x2="488.49" y2="394.59" stroke="#461858" stroke-width="0.8"/>
<polygon points="487.29,394.86 488.78,392.17 485.79,392.17" fill="#461858"/>
<line x1="440.11" y1="362.86" x2="440.11" y2="358.80" stroke="#a8102a" stroke-width="0.8"/>
<line x1="438.91" y1="358.80" x2="441.31" y2="358.80" stroke="#a8102a" stroke-width="0.8"/>
<line x1="438.91" y1="362.86" x2="441.31" y2="362.86" stroke="#a8102a" stroke-width="0.8"/>
<rect x="438.81" y="359.53" width="2.60" height="2.60" fill="#a8102a"/>
<line x1="447.98" y1="366.12" x2="447.98" y2="363.68" stroke="#a8102a" stroke-width="0.8"/>
<line x1="446.78" y1="363.68" x2="449.18" y2="363.68" stroke="#a8102a" stroke-width="0.8"/>
<line x1="446.78" y1="366.12" x2="449.18" y2="366.12" stroke="#a8102a" stroke-width="0.8"/>
<rect x="446.68" y="363.60" width="2.60" height="2.60" fill="#a8102a"/>
<line x1="455.84" y1="377.91" x2="455.84" y2="375.47" stroke="#a8102a" stroke-width="0.8"/>
<line x1="454.64" y1="375.47" x2="457.04" y2="375.47" stroke="#a8102a" stroke-width="0.8"/>
<line x1="454.64" y1="377.91" x2="457.04" y2="377.91" stroke="#a8102a" stroke-width="0.8"/>
<rect x="454.54" y="375.39" width="2.60" height="2.60" fill="#a8102a"/>
<line x1="463.70" y1="386.45" x2="463.70" y2="384.01" stroke="#a8102a" stroke-width="0.8"/>
<line x1="462.50" y1="384.01" x2="464.90" y2="384.01" stroke="#a8102a" stroke-width="0.8"/>
<line x1="462.50" y1="386.45" x2="464.90" y2="386.45" stroke="#a8102a" stroke-width="0.8"/>
<rect x="462.40" y="383.93" width="2.60" height="2.60" fill="#a8102a"/>
<line x1="471.56" y1="391.33" x2="471.56" y2="389.71" stroke="#a8102a" stroke-width="0.8"/>
<line x1="470.36" y1="389.71" x2="472.76" y2="389.71" stroke="#a8102a" stroke-width="0.8"/>
<line x1="470.36" y1="391.33" x2="472.76" y2="391.33" stroke="#a8102a" stroke-width="0.8"/>
<rect x="470.26" y="389.22" width="2.60" height="2.60" fill="#a8102a"/>
<line x1="479.43" y1="394.59" x2="479.43" y2="392.96" stroke="#a8102a" stroke-width="0.8"/>
<line x1="478.23" y1="392.96" x2="480.63" y2="392.96" stroke="#a8102a" stroke-width="0.8"/>
<line x1="478.23" y1="394.59" x2="480.63" y2="394.59" stroke="#a8102a" stroke-width="0.8"/>
<rect x="478.13" y="392.47" width="2.60" height="2.60" fill="#a8102a"/>
<line x1="487.29" y1="394.59" x2="487.29" y2="392.15" stroke="#a8102a" stroke-width="0.8"/>
<line x1="486.09" y1="392.15" x2="488.49" y2="392.15" stroke="#a8102a" stroke-width="0.8"/>
<line x1="486.09" y1="394.59" x2="488.49" y2="394.59" stroke="#a8102a" stroke-width="0.8"/>
<rect x="485.99" y="392.07" width="2.60" height="2.60" fill="#a8102a"/>
<line x1="440.11" y1="360.83" x2="440.11" y2="356.76" stroke="#142d5c" stroke-width="0.8"/>
<line x1="438.91" y1="356.76" x2="441.31" y2="356.76" stroke="#142d5c" stroke-width="0.8"/>
<line x1="438.91" y1="360.83" x2="441.31" y2="360.83" stroke="#142d5c" stroke-width="0.8"/>
<circle cx="440.11" cy="358.80" r="1.30" fill="#142d5c"/>
<line x1="447.98" y1="361.24" x2="447.98" y2="358.80" stroke="#142d5c" stroke-width="0.8"/>
<line x1="446.78" y1="358.80" x2="449.18" y2="358.80" stroke="#142d5c" stroke-width="0.8"/>
<line x1="446.78" y1="361.24" x2="449.18" y2="361.24" stroke="#142d5c" stroke-width="0.8"/>
<circle cx="447.98" cy="360.02" r="1.30" fill="#142d5c"/>
<line x1="455.84" y1="367.34" x2="455.84" y2="364.90" stroke="#142d5c" stroke-width="0.8"/>
<line x1="454.64" y1="364.90" x2="457.04" y2="364.90" stroke="#142d5c" stroke-width="0.8"/>
<line x1="454.64" y1="367.34" x2="457.04" y2="367.34" stroke="#142d5c" stroke-width="0.8"/>
<circle cx="455.84" cy="366.12" r="1.30" fill="#142d5c"/>
<line x1="463.70" y1="379.13" x2="463.70" y2="376.69" stroke="#142d5c" stroke-width="0.8"/>
<line x1="462.50" y1="376.69" x2="464.90" y2="376.69" stroke="#142d5c" stroke-width="0.8"/>
<line x1="462.50" y1="379.13" x2="464.90" y2="379.13" stroke="#142d5c" stroke-width="0.8"/>
<circle cx="463.70" cy="377.91" r="1.30" fill="#142d5c"/>
<line x1="471.56" y1="387.27" x2="471.56" y2="384.83" stroke="#142d5c" stroke-width="0.8"/>
<line x1="470.36" y1="384.83" x2="472.76" y2="384.83" stroke="#142d5c" stroke-width="0.8"/>
<line x1="470.36" y1="387.27" x2="472.76" y2="387.27" stroke="#142d5c" stroke-width="0.8"/>
<circle cx="471.56" cy="386.05" r="1.30" fill="#142d5c"/>
<line x1="479.43" y1="392.15" x2="479.43" y2="390.52" stroke="#142d5c" stroke-width="0.8"/>
<line x1="478.23" y1="390.52" x2="480.63" y2="390.52" stroke="#142d5c" stroke-width="0.8"/>
<line x1="478.23" y1="392.15" x2="480.63" y2="392.15" stroke="#142d5c" stroke-width="0.8"/>
<circle cx="479.43" cy="391.33" r="1.30" fill="#142d5c"/>
<line x1="487.29" y1="393.77" x2="487.29" y2="391.33" stroke="#142d5c" stroke-width="0.8"/>
<line x1="486.09" y1="391.33" x2="488.49" y2="391.33" stroke="#142d5c" stroke-width="0.8"/>
<line x1="486.09" y1="393.77" x2="488.49" y2="393.77" stroke="#142d5c" stroke-width="0.8"/>
<circle cx="487.29" cy="392.55" r="1.30" fill="#142d5c"/>
<text x="217.30" y="116.80" font-size="5.8" text-anchor="middle" font-weight="normal" fill="#1a1a1a" letter-spacing="0.25" stroke="#1a1a1a" stroke-width="0.18">IC50</text>
<line x1="150.80" y1="124.40" x2="162.40" y2="124.40" stroke="#1b4e8e" stroke-width="1.1"/>
<circle cx="156.60" cy="124.40" r="1.90" fill="#1b4e8e"/>
<text x="165.00" y="126.20" font-size="5.8" text-anchor="start" font-weight="normal" fill="#1a1a1a" letter-spacing="0.27" stroke="#1a1a1a" stroke-width="0.1">NTC</text>
<text x="209.30" y="126.20" font-size="5.8" text-anchor="start" font-weight="normal" fill="#4a78b8" letter-spacing="0.27" stroke="#4a78b8" stroke-width="0.1">0.6739</text>
<line x1="150.80" y1="134.10" x2="162.40" y2="134.10" stroke="#d3122f" stroke-width="1.1"/>
<rect x="154.70" y="132.20" width="3.80" height="3.80" fill="#d3122f"/>
<text x="165.00" y="135.90" font-size="5.8" text-anchor="start" font-weight="normal" fill="#1a1a1a" letter-spacing="0.27" stroke="#1a1a1a" stroke-width="0.1">BCL2 siRNA</text>
<text x="209.30" y="135.90" font-size="5.8" text-anchor="start" font-weight="normal" fill="#d8364f" letter-spacing="0.27" stroke="#d8364f" stroke-width="0.1">0.4861</text>
<line x1="150.80" y1="143.50" x2="162.40" y2="143.50" stroke="#3dae3a" stroke-width="1.1"/>
<polygon points="156.60,141.31 158.78,145.25 154.41,145.25" fill="#3dae3a"/>
<text x="165.00" y="145.30" font-size="5.8" text-anchor="start" font-weight="normal" fill="#1a1a1a" letter-spacing="0.27" stroke="#1a1a1a" stroke-width="0.1">CLIP2 siRNA</text>
<text x="209.30" y="145.30" font-size="5.8" text-anchor="start" font-weight="normal" fill="#55b350" letter-spacing="0.27" stroke="#55b350" stroke-width="0.1">0.5118</text>
<line x1="150.80" y1="153.00" x2="162.40" y2="153.00" stroke="#5c1f72" stroke-width="1.1"/>
<polygon points="156.60,155.19 158.78,151.25 154.41,151.25" fill="#5c1f72"/>
<text x="165.00" y="154.80" font-size="5.8" text-anchor="start" font-weight="normal" fill="#1a1a1a" letter-spacing="0.27" stroke="#1a1a1a" stroke-width="0.1">VAV3 siRNA</text>
<text x="209.30" y="154.80" font-size="5.8" text-anchor="start" font-weight="normal" fill="#7a4a98" letter-spacing="0.27" stroke="#7a4a98" stroke-width="0.1">0.5017</text>
<text x="353.10" y="116.80" font-size="5.8" text-anchor="middle" font-weight="normal" fill="#1a1a1a" letter-spacing="0.25" stroke="#1a1a1a" stroke-width="0.18">IC50</text>
<line x1="286.10" y1="124.40" x2="297.70" y2="124.40" stroke="#1b4e8e" stroke-width="1.1"/>
<circle cx="291.90" cy="124.40" r="1.90" fill="#1b4e8e"/>
<text x="300.70" y="126.20" font-size="5.8" text-anchor="start" font-weight="normal" fill="#1a1a1a" letter-spacing="0.27" stroke="#1a1a1a" stroke-width="0.1">NTC</text>
<text x="344.30" y="126.20" font-size="5.8" text-anchor="start" font-weight="normal" fill="#4a78b8" letter-spacing="0.27" stroke="#4a78b8" stroke-width="0.1">0.0494</text>
<line x1="286.10" y1="134.10" x2="297.70" y2="134.10" stroke="#d3122f" stroke-width="1.1"/>
<rect x="290.00" y="132.20" width="3.80" height="3.80" fill="#d3122f"/>
<text x="300.70" y="135.90" font-size="5.8" text-anchor="start" font-weight="normal" fill="#1a1a1a" letter-spacing="0.27" stroke="#1a1a1a" stroke-width="0.1">BCL2 siRNA</text>
<text x="344.30" y="135.90" font-size="5.8" text-anchor="start" font-weight="normal" fill="#d8364f" letter-spacing="0.27" stroke="#d8364f" stroke-width="0.1">0.02631</text>
<line x1="286.10" y1="143.50" x2="297.70" y2="143.50" stroke="#3dae3a" stroke-width="1.1"/>
<polygon points="291.90,141.31 294.08,145.25 289.71,145.25" fill="#3dae3a"/>
<text x="300.70" y="145.30" font-size="5.8" text-anchor="start" font-weight="normal" fill="#1a1a1a" letter-spacing="0.27" stroke="#1a1a1a" stroke-width="0.1">CLIP2 siRNA</text>
<text x="344.30" y="145.30" font-size="5.8" text-anchor="start" font-weight="normal" fill="#55b350" letter-spacing="0.27" stroke="#55b350" stroke-width="0.1">0.02626</text>
<line x1="286.10" y1="153.00" x2="297.70" y2="153.00" stroke="#5c1f72" stroke-width="1.1"/>
<polygon points="291.90,155.19 294.08,151.25 289.71,151.25" fill="#5c1f72"/>
<text x="300.70" y="154.80" font-size="5.8" text-anchor="start" font-weight="normal" fill="#1a1a1a" letter-spacing="0.27" stroke="#1a1a1a" stroke-width="0.1">VAV3 siRNA</text>
<text x="344.30" y="154.80" font-size="5.8" text-anchor="start" font-weight="normal" fill="#7a4a98" letter-spacing="0.27" stroke="#7a4a98" stroke-width="0.1">0.0351</text>
<text x="487.70" y="116.80" font-size="5.8" text-anchor="middle" font-weight="normal" fill="#1a1a1a" letter-spacing="0.25" stroke="#1a1a1a" stroke-width="0.18">IC50</text>
<line x1="421.20" y1="124.40" x2="432.80" y2="124.40" stroke="#1b4e8e" stroke-width="1.1"/>
<circle cx="427.00" cy="124.40" r="1.90" fill="#1b4e8e"/>
<text x="435.80" y="126.20" font-size="5.8" text-anchor="start" font-weight="normal" fill="#1a1a1a" letter-spacing="0.27" stroke="#1a1a1a" stroke-width="0.1">NTC</text>
<text x="479.60" y="126.20" font-size="5.8" text-anchor="start" font-weight="normal" fill="#4a78b8" letter-spacing="0.27" stroke="#4a78b8" stroke-width="0.1">0.7213</text>
<line x1="421.20" y1="134.10" x2="432.80" y2="134.10" stroke="#d3122f" stroke-width="1.1"/>
<rect x="425.10" y="132.20" width="3.80" height="3.80" fill="#d3122f"/>
<text x="435.80" y="135.90" font-size="5.8" text-anchor="start" font-weight="normal" fill="#1a1a1a" letter-spacing="0.27" stroke="#1a1a1a" stroke-width="0.1">BCL2 siRNA</text>
<text x="479.60" y="135.90" font-size="5.8" text-anchor="start" font-weight="normal" fill="#d8364f" letter-spacing="0.27" stroke="#d8364f" stroke-width="0.1">0.3872</text>
<line x1="421.20" y1="143.50" x2="432.80" y2="143.50" stroke="#3dae3a" stroke-width="1.1"/>
<polygon points="427.00,141.31 429.19,145.25 424.81,145.25" fill="#3dae3a"/>
<text x="435.80" y="145.30" font-size="5.8" text-anchor="start" font-weight="normal" fill="#1a1a1a" letter-spacing="0.27" stroke="#1a1a1a" stroke-width="0.1">CLIP2 siRNA</text>
<text x="479.60" y="145.30" font-size="5.8" text-anchor="start" font-weight="normal" fill="#55b350" letter-spacing="0.27" stroke="#55b350" stroke-width="0.1">0.5533</text>
<line x1="421.20" y1="153.00" x2="432.80" y2="153.00" stroke="#5c1f72" stroke-width="1.1"/>
<polygon points="427.00,155.19 429.19,151.25 424.81,151.25" fill="#5c1f72"/>
<text x="435.80" y="154.80" font-size="5.8" text-anchor="start" font-weight="normal" fill="#1a1a1a" letter-spacing="0.27" stroke="#1a1a1a" stroke-width="0.1">VAV3 siRNA</text>
<text x="479.60" y="154.80" font-size="5.8" text-anchor="start" font-weight="normal" fill="#7a4a98" letter-spacing="0.27" stroke="#7a4a98" stroke-width="0.1">0.5012</text>
<text x="222.40" y="433.60" font-size="5.8" text-anchor="middle" font-weight="normal" fill="#1a1a1a" letter-spacing="0.25" stroke="#1a1a1a" stroke-width="0.18">IC50</text>
<line x1="156.10" y1="441.50" x2="167.70" y2="441.50" stroke="#1b4e8e" stroke-width="1.1"/>
<circle cx="161.90" cy="441.50" r="1.90" fill="#1b4e8e"/>
<text x="170.00" y="443.30" font-size="5.8" text-anchor="start" font-weight="normal" fill="#1a1a1a" letter-spacing="0.27" stroke="#1a1a1a" stroke-width="0.1">NTC</text>
<text x="215.00" y="443.30" font-size="5.8" text-anchor="start" font-weight="normal" fill="#4a78b8" letter-spacing="0.27" stroke="#4a78b8" stroke-width="0.1">16.52</text>
<line x1="156.10" y1="451.00" x2="167.70" y2="451.00" stroke="#d3122f" stroke-width="1.1"/>
<rect x="160.00" y="449.10" width="3.80" height="3.80" fill="#d3122f"/>
<text x="170.00" y="452.80" font-size="5.8" text-anchor="start" font-weight="normal" fill="#1a1a1a" letter-spacing="0.27" stroke="#1a1a1a" stroke-width="0.1">BCL2 siRNA</text>
<text x="215.00" y="452.80" font-size="5.8" text-anchor="start" font-weight="normal" fill="#d8364f" letter-spacing="0.27" stroke="#d8364f" stroke-width="0.1">5.898</text>
<line x1="156.10" y1="460.80" x2="167.70" y2="460.80" stroke="#3dae3a" stroke-width="1.1"/>
<polygon points="161.90,458.62 164.09,462.55 159.72,462.55" fill="#3dae3a"/>
<text x="170.00" y="462.60" font-size="5.8" text-anchor="start" font-weight="normal" fill="#1a1a1a" letter-spacing="0.27" stroke="#1a1a1a" stroke-width="0.1">CLIP2 siRNA</text>
<text x="215.00" y="462.60" font-size="5.8" text-anchor="start" font-weight="normal" fill="#55b350" letter-spacing="0.27" stroke="#55b350" stroke-width="0.1">5.314</text>
<line x1="156.10" y1="470.20" x2="167.70" y2="470.20" stroke="#5c1f72" stroke-width="1.1"/>
<polygon points="161.90,472.38 164.09,468.45 159.72,468.45" fill="#5c1f72"/>
<text x="170.00" y="472.00" font-size="5.8" text-anchor="start" font-weight="normal" fill="#1a1a1a" letter-spacing="0.27" stroke="#1a1a1a" stroke-width="0.1">VAV3 siRNA</text>
<text x="215.00" y="472.00" font-size="5.8" text-anchor="start" font-weight="normal" fill="#7a4a98" letter-spacing="0.27" stroke="#7a4a98" stroke-width="0.1">6.271</text>
<text x="353.50" y="433.60" font-size="5.8" text-anchor="middle" font-weight="normal" fill="#1a1a1a" letter-spacing="0.25" stroke="#1a1a1a" stroke-width="0.18">IC50</text>
<line x1="286.60" y1="441.50" x2="298.20" y2="441.50" stroke="#1b4e8e" stroke-width="1.1"/>
<circle cx="292.40" cy="441.50" r="1.90" fill="#1b4e8e"/>
<text x="301.80" y="443.30" font-size="5.8" text-anchor="start" font-weight="normal" fill="#1a1a1a" letter-spacing="0.27" stroke="#1a1a1a" stroke-width="0.1">NTC</text>
<text x="345.70" y="443.30" font-size="5.8" text-anchor="start" font-weight="normal" fill="#4a78b8" letter-spacing="0.27" stroke="#4a78b8" stroke-width="0.1">0.3651</text>
<line x1="286.60" y1="451.00" x2="298.20" y2="451.00" stroke="#d3122f" stroke-width="1.1"/>
<rect x="290.50" y="449.10" width="3.80" height="3.80" fill="#d3122f"/>
<text x="301.80" y="452.80" font-size="5.8" text-anchor="start" font-weight="normal" fill="#1a1a1a" letter-spacing="0.27" stroke="#1a1a1a" stroke-width="0.1">BCL2 siRNA</text>
<text x="345.70" y="452.80" font-size="5.8" text-anchor="start" font-weight="normal" fill="#d8364f" letter-spacing="0.27" stroke="#d8364f" stroke-width="0.1">0.1558</text>
<line x1="286.60" y1="460.80" x2="298.20" y2="460.80" stroke="#3dae3a" stroke-width="1.1"/>
<polygon points="292.40,458.62 294.58,462.55 290.21,462.55" fill="#3dae3a"/>
<text x="301.80" y="462.60" font-size="5.8" text-anchor="start" font-weight="normal" fill="#1a1a1a" letter-spacing="0.27" stroke="#1a1a1a" stroke-width="0.1">CLIP2 siRNA</text>
<text x="345.70" y="462.60" font-size="5.8" text-anchor="start" font-weight="normal" fill="#55b350" letter-spacing="0.27" stroke="#55b350" stroke-width="0.1">0.1502</text>
<line x1="286.60" y1="470.20" x2="298.20" y2="470.20" stroke="#5c1f72" stroke-width="1.1"/>
<polygon points="292.40,472.38 294.58,468.45 290.21,468.45" fill="#5c1f72"/>
<text x="301.80" y="472.00" font-size="5.8" text-anchor="start" font-weight="normal" fill="#1a1a1a" letter-spacing="0.27" stroke="#1a1a1a" stroke-width="0.1">VAV3 siRNA</text>
<text x="345.70" y="472.00" font-size="5.8" text-anchor="start" font-weight="normal" fill="#7a4a98" letter-spacing="0.27" stroke="#7a4a98" stroke-width="0.1">0.1351</text>
<text x="492.30" y="433.60" font-size="5.8" text-anchor="middle" font-weight="normal" fill="#1a1a1a" letter-spacing="0.25" stroke="#1a1a1a" stroke-width="0.18">IC50</text>
<line x1="425.80" y1="441.50" x2="437.40" y2="441.50" stroke="#1b4e8e" stroke-width="1.1"/>
<circle cx="431.60" cy="441.50" r="1.90" fill="#1b4e8e"/>
<text x="440.40" y="443.30" font-size="5.8" text-anchor="start" font-weight="normal" fill="#1a1a1a" letter-spacing="0.27" stroke="#1a1a1a" stroke-width="0.1">NTC</text>
<text x="484.20" y="443.30" font-size="5.8" text-anchor="start" font-weight="normal" fill="#4a78b8" letter-spacing="0.27" stroke="#4a78b8" stroke-width="0.1">5.281</text>
<line x1="425.80" y1="451.00" x2="437.40" y2="451.00" stroke="#d3122f" stroke-width="1.1"/>
<rect x="429.70" y="449.10" width="3.80" height="3.80" fill="#d3122f"/>
<text x="440.40" y="452.80" font-size="5.8" text-anchor="start" font-weight="normal" fill="#1a1a1a" letter-spacing="0.27" stroke="#1a1a1a" stroke-width="0.1">BCL2 siRNA</text>
<text x="484.20" y="452.80" font-size="5.8" text-anchor="start" font-weight="normal" fill="#d8364f" letter-spacing="0.27" stroke="#d8364f" stroke-width="0.1">3.098</text>
<line x1="425.80" y1="460.80" x2="437.40" y2="460.80" stroke="#3dae3a" stroke-width="1.1"/>
<polygon points="431.60,458.62 433.79,462.55 429.42,462.55" fill="#3dae3a"/>
<text x="440.40" y="462.60" font-size="5.8" text-anchor="start" font-weight="normal" fill="#1a1a1a" letter-spacing="0.27" stroke="#1a1a1a" stroke-width="0.1">CLIP2 siRNA</text>
<text x="484.20" y="462.60" font-size="5.8" text-anchor="start" font-weight="normal" fill="#55b350" letter-spacing="0.27" stroke="#55b350" stroke-width="0.1">4.219</text>
<line x1="425.80" y1="470.20" x2="437.40" y2="470.20" stroke="#5c1f72" stroke-width="1.1"/>
<polygon points="431.60,472.38 433.79,468.45 429.42,468.45" fill="#5c1f72"/>
<text x="440.40" y="472.00" font-size="5.8" text-anchor="start" font-weight="normal" fill="#1a1a1a" letter-spacing="0.27" stroke="#1a1a1a" stroke-width="0.1">VAV3 siRNA</text>
<text x="484.20" y="472.00" font-size="5.8" text-anchor="start" font-weight="normal" fill="#7a4a98" letter-spacing="0.27" stroke="#7a4a98" stroke-width="0.1">3.664</text>
<text x="192.30" y="177.80" font-size="8" text-anchor="middle" font-weight="normal" fill="#1a1a1a" stroke="#1a1a1a" stroke-width="0.3">MOLM13 &amp; AraC</text>
<text x="192.30" y="186.90" font-size="8" text-anchor="middle" font-weight="normal" fill="#1a1a1a" stroke="#1a1a1a" stroke-width="0.3">(0.740uM)</text>
<line x1="157.20" y1="202.90" x2="157.20" y2="274.30" stroke="#141414" stroke-width="1.3"/>
<line x1="154.40" y1="273.80" x2="157.20" y2="273.80" stroke="#141414" stroke-width="1"/>
<text x="151.70" y="275.80" font-size="5.6" text-anchor="end" font-weight="normal" fill="#1a1a1a" letter-spacing="0.25" stroke="#1a1a1a" stroke-width="0.18">0</text>
<line x1="154.40" y1="259.62" x2="157.20" y2="259.62" stroke="#141414" stroke-width="1"/>
<text x="151.70" y="261.62" font-size="5.6" text-anchor="end" font-weight="normal" fill="#1a1a1a" letter-spacing="0.25" stroke="#1a1a1a" stroke-width="0.18">20</text>
<line x1="154.40" y1="245.44" x2="157.20" y2="245.44" stroke="#141414" stroke-width="1"/>
<text x="151.70" y="247.44" font-size="5.6" text-anchor="end" font-weight="normal" fill="#1a1a1a" letter-spacing="0.25" stroke="#1a1a1a" stroke-width="0.18">40</text>
<line x1="154.40" y1="231.26" x2="157.20" y2="231.26" stroke="#141414" stroke-width="1"/>
<text x="151.70" y="233.26" font-size="5.6" text-anchor="end" font-weight="normal" fill="#1a1a1a" letter-spacing="0.25" stroke="#1a1a1a" stroke-width="0.18">60</text>
<line x1="154.40" y1="217.08" x2="157.20" y2="217.08" stroke="#141414" stroke-width="1"/>
<text x="151.70" y="219.08" font-size="5.6" text-anchor="end" font-weight="normal" fill="#1a1a1a" letter-spacing="0.25" stroke="#1a1a1a" stroke-width="0.18">80</text>
<line x1="154.40" y1="202.90" x2="157.20" y2="202.90" stroke="#141414" stroke-width="1"/>
<text x="151.70" y="204.90" font-size="5.6" text-anchor="end" font-weight="normal" fill="#1a1a1a" letter-spacing="0.25" stroke="#1a1a1a" stroke-width="0.18">100</text>
<rect x="162.25" y="237.64" width="10.70" height="36.16" fill="#1b4e8e"/>
<line x1="167.60" y1="237.64" x2="167.60" y2="236.22" stroke="#1b4e8e" stroke-width="1"/>
<line x1="164.80" y1="236.22" x2="170.40" y2="236.22" stroke="#1b4e8e" stroke-width="1"/>
<rect x="178.25" y="244.02" width="10.70" height="29.78" fill="#d3122f"/>
<line x1="183.60" y1="244.02" x2="183.60" y2="243.31" stroke="#d3122f" stroke-width="1"/>
<line x1="180.80" y1="243.31" x2="186.40" y2="243.31" stroke="#d3122f" stroke-width="1"/>
<rect x="194.95" y="241.90" width="10.70" height="31.90" fill="#3dae3a"/>
<line x1="200.30" y1="241.90" x2="200.30" y2="241.19" stroke="#3dae3a" stroke-width="1"/>
<line x1="197.50" y1="241.19" x2="203.10" y2="241.19" stroke="#3dae3a" stroke-width="1"/>
<rect x="211.45" y="241.90" width="10.70" height="31.90" fill="#5c1f72"/>
<line x1="216.80" y1="241.90" x2="216.80" y2="238.35" stroke="#5c1f72" stroke-width="1"/>
<line x1="214.00" y1="238.35" x2="219.60" y2="238.35" stroke="#5c1f72" stroke-width="1"/>
<line x1="156.70" y1="273.80" x2="227.00" y2="273.80" stroke="#141414" stroke-width="1.3"/>
<line x1="167.60" y1="273.80" x2="167.60" y2="276.00" stroke="#141414" stroke-width="1"/>
<text x="167.90" y="281.80" font-size="5.7" text-anchor="end" font-weight="normal" fill="#1a1a1a" letter-spacing="0.2" transform="rotate(-45 167.90 281.80)" stroke="#1a1a1a" stroke-width="0.18">NTC</text>
<line x1="183.60" y1="273.80" x2="183.60" y2="276.00" stroke="#141414" stroke-width="1"/>
<text x="183.90" y="281.80" font-size="5.7" text-anchor="end" font-weight="normal" fill="#1a1a1a" letter-spacing="0.2" transform="rotate(-45 183.90 281.80)" stroke="#1a1a1a" stroke-width="0.18">BCL2 siRNA</text>
<line x1="200.30" y1="273.80" x2="200.30" y2="276.00" stroke="#141414" stroke-width="1"/>
<text x="200.60" y="281.80" font-size="5.7" text-anchor="end" font-weight="normal" fill="#1a1a1a" letter-spacing="0.2" transform="rotate(-45 200.60 281.80)" stroke="#1a1a1a" stroke-width="0.18">CLIP2 siRNA</text>
<line x1="216.80" y1="273.80" x2="216.80" y2="276.00" stroke="#141414" stroke-width="1"/>
<text x="217.10" y="281.80" font-size="5.7" text-anchor="end" font-weight="normal" fill="#1a1a1a" letter-spacing="0.2" transform="rotate(-45 217.10 281.80)" stroke="#1a1a1a" stroke-width="0.18">VAV3 siRNA</text>
<polyline points="167.60,232.40 167.60,227.80 183.60,227.80 183.60,240.11" fill="none" stroke="#3c3c3c" stroke-width="1"/>
<text x="175.60" y="227.70" font-size="6.2" text-anchor="middle" font-weight="normal" fill="#1a1a1a" stroke="#1a1a1a" stroke-width="0.12">**</text>
<polyline points="167.60,218.10 167.60,213.50 200.30,213.50 200.30,237.99" fill="none" stroke="#3c3c3c" stroke-width="1"/>
<text x="183.95" y="213.40" font-size="6.2" text-anchor="middle" font-weight="normal" fill="#1a1a1a" stroke="#1a1a1a" stroke-width="0.12">*</text>
<polyline points="167.60,209.90 167.60,199.50 216.80,199.50 216.80,235.15" fill="none" stroke="#3c3c3c" stroke-width="1"/>
<text x="192.20" y="199.40" font-size="6.2" text-anchor="middle" font-weight="normal" fill="#1a1a1a" stroke="#1a1a1a" stroke-width="0.12">*</text>
<text x="134.60" y="238.85" font-size="7.5" text-anchor="middle" font-weight="bold" fill="#2a2a2a" transform="rotate(-90 134.60 238.85)" textLength="26.0" lengthAdjust="spacingAndGlyphs">Viability %</text>
<text x="330.00" y="177.80" font-size="8" text-anchor="middle" font-weight="normal" fill="#1a1a1a" stroke="#1a1a1a" stroke-width="0.3">MOLM13 &amp; Dauno</text>
<text x="330.00" y="187.10" font-size="8" text-anchor="middle" font-weight="normal" fill="#1a1a1a" stroke="#1a1a1a" stroke-width="0.3">(0.074uM)</text>
<line x1="293.75" y1="203.00" x2="293.75" y2="274.25" stroke="#141414" stroke-width="1.3"/>
<line x1="290.95" y1="273.75" x2="293.75" y2="273.75" stroke="#141414" stroke-width="1"/>
<text x="288.25" y="275.75" font-size="5.6" text-anchor="end" font-weight="normal" fill="#1a1a1a" letter-spacing="0.25" stroke="#1a1a1a" stroke-width="0.18">0</text>
<line x1="290.95" y1="259.60" x2="293.75" y2="259.60" stroke="#141414" stroke-width="1"/>
<text x="288.25" y="261.60" font-size="5.6" text-anchor="end" font-weight="normal" fill="#1a1a1a" letter-spacing="0.25" stroke="#1a1a1a" stroke-width="0.18">20</text>
<line x1="290.95" y1="245.45" x2="293.75" y2="245.45" stroke="#141414" stroke-width="1"/>
<text x="288.25" y="247.45" font-size="5.6" text-anchor="end" font-weight="normal" fill="#1a1a1a" letter-spacing="0.25" stroke="#1a1a1a" stroke-width="0.18">40</text>
<line x1="290.95" y1="231.30" x2="293.75" y2="231.30" stroke="#141414" stroke-width="1"/>
<text x="288.25" y="233.30" font-size="5.6" text-anchor="end" font-weight="normal" fill="#1a1a1a" letter-spacing="0.25" stroke="#1a1a1a" stroke-width="0.18">60</text>
<line x1="290.95" y1="217.15" x2="293.75" y2="217.15" stroke="#141414" stroke-width="1"/>
<text x="288.25" y="219.15" font-size="5.6" text-anchor="end" font-weight="normal" fill="#1a1a1a" letter-spacing="0.25" stroke="#1a1a1a" stroke-width="0.18">80</text>
<line x1="290.95" y1="203.00" x2="293.75" y2="203.00" stroke="#141414" stroke-width="1"/>
<text x="288.25" y="205.00" font-size="5.6" text-anchor="end" font-weight="normal" fill="#1a1a1a" letter-spacing="0.25" stroke="#1a1a1a" stroke-width="0.18">100</text>
<rect x="299.60" y="249.69" width="10.80" height="24.05" fill="#1b4e8e"/>
<line x1="305.00" y1="249.69" x2="305.00" y2="246.51" stroke="#1b4e8e" stroke-width="1"/>
<line x1="302.20" y1="246.51" x2="307.80" y2="246.51" stroke="#1b4e8e" stroke-width="1"/>
<rect x="316.20" y="265.97" width="10.80" height="7.78" fill="#d3122f"/>
<line x1="321.60" y1="265.97" x2="321.60" y2="265.61" stroke="#d3122f" stroke-width="1"/>
<line x1="318.80" y1="265.61" x2="324.40" y2="265.61" stroke="#d3122f" stroke-width="1"/>
<rect x="332.50" y="262.43" width="10.80" height="11.32" fill="#3dae3a"/>
<line x1="337.90" y1="262.43" x2="337.90" y2="262.08" stroke="#3dae3a" stroke-width="1"/>
<line x1="335.10" y1="262.08" x2="340.70" y2="262.08" stroke="#3dae3a" stroke-width="1"/>
<rect x="348.90" y="260.31" width="10.80" height="13.44" fill="#5c1f72"/>
<line x1="354.30" y1="260.31" x2="354.30" y2="259.95" stroke="#5c1f72" stroke-width="1"/>
<line x1="351.50" y1="259.95" x2="357.10" y2="259.95" stroke="#5c1f72" stroke-width="1"/>
<line x1="293.25" y1="273.75" x2="365.00" y2="273.75" stroke="#141414" stroke-width="1.3"/>
<line x1="305.00" y1="273.75" x2="305.00" y2="275.95" stroke="#141414" stroke-width="1"/>
<text x="305.30" y="281.75" font-size="5.7" text-anchor="end" font-weight="normal" fill="#1a1a1a" letter-spacing="0.2" transform="rotate(-45 305.30 281.75)" stroke="#1a1a1a" stroke-width="0.18">NTC</text>
<line x1="321.60" y1="273.75" x2="321.60" y2="275.95" stroke="#141414" stroke-width="1"/>
<text x="321.90" y="281.75" font-size="5.7" text-anchor="end" font-weight="normal" fill="#1a1a1a" letter-spacing="0.2" transform="rotate(-45 321.90 281.75)" stroke="#1a1a1a" stroke-width="0.18">BCL2 siRNA</text>
<line x1="337.90" y1="273.75" x2="337.90" y2="275.95" stroke="#141414" stroke-width="1"/>
<text x="338.20" y="281.75" font-size="5.7" text-anchor="end" font-weight="normal" fill="#1a1a1a" letter-spacing="0.2" transform="rotate(-45 338.20 281.75)" stroke="#1a1a1a" stroke-width="0.18">CLIP2 siRNA</text>
<line x1="354.30" y1="273.75" x2="354.30" y2="275.95" stroke="#141414" stroke-width="1"/>
<text x="354.60" y="281.75" font-size="5.7" text-anchor="end" font-weight="normal" fill="#1a1a1a" letter-spacing="0.2" transform="rotate(-45 354.60 281.75)" stroke="#1a1a1a" stroke-width="0.18">VAV3 siRNA</text>
<polyline points="305.00,242.85 305.00,238.25 321.60,238.25 321.60,262.41" fill="none" stroke="#3c3c3c" stroke-width="1"/>
<text x="313.30" y="238.15" font-size="6.2" text-anchor="middle" font-weight="normal" fill="#1a1a1a" stroke="#1a1a1a" stroke-width="0.12">***</text>
<polyline points="305.00,228.35 305.00,223.75 337.90,223.75 337.90,258.88" fill="none" stroke="#3c3c3c" stroke-width="1"/>
<text x="321.45" y="223.65" font-size="6.2" text-anchor="middle" font-weight="normal" fill="#1a1a1a" stroke="#1a1a1a" stroke-width="0.12">***</text>
<polyline points="305.00,220.15 305.00,209.25 354.30,209.25 354.30,256.75" fill="none" stroke="#3c3c3c" stroke-width="1"/>
<text x="329.65" y="209.15" font-size="6.2" text-anchor="middle" font-weight="normal" fill="#1a1a1a" stroke="#1a1a1a" stroke-width="0.12">***</text>
<text x="271.15" y="238.88" font-size="7.5" text-anchor="middle" font-weight="bold" fill="#2a2a2a" transform="rotate(-90 271.15 238.88)" textLength="26.0" lengthAdjust="spacingAndGlyphs">Viability %</text>
<text x="465.00" y="177.80" font-size="8" text-anchor="middle" font-weight="normal" fill="#1a1a1a" stroke="#1a1a1a" stroke-width="0.3">MOLM13 &amp; Etop</text>
<text x="465.00" y="187.10" font-size="8" text-anchor="middle" font-weight="normal" fill="#1a1a1a" stroke="#1a1a1a" stroke-width="0.3">(0.740uM)</text>
<line x1="428.75" y1="203.00" x2="428.75" y2="274.25" stroke="#141414" stroke-width="1.3"/>
<line x1="425.95" y1="273.75" x2="428.75" y2="273.75" stroke="#141414" stroke-width="1"/>
<text x="423.25" y="275.75" font-size="5.6" text-anchor="end" font-weight="normal" fill="#1a1a1a" letter-spacing="0.25" stroke="#1a1a1a" stroke-width="0.18">0</text>
<line x1="425.95" y1="259.60" x2="428.75" y2="259.60" stroke="#141414" stroke-width="1"/>
<text x="423.25" y="261.60" font-size="5.6" text-anchor="end" font-weight="normal" fill="#1a1a1a" letter-spacing="0.25" stroke="#1a1a1a" stroke-width="0.18">20</text>
<line x1="425.95" y1="245.45" x2="428.75" y2="245.45" stroke="#141414" stroke-width="1"/>
<text x="423.25" y="247.45" font-size="5.6" text-anchor="end" font-weight="normal" fill="#1a1a1a" letter-spacing="0.25" stroke="#1a1a1a" stroke-width="0.18">40</text>
<line x1="425.95" y1="231.30" x2="428.75" y2="231.30" stroke="#141414" stroke-width="1"/>
<text x="423.25" y="233.30" font-size="5.6" text-anchor="end" font-weight="normal" fill="#1a1a1a" letter-spacing="0.25" stroke="#1a1a1a" stroke-width="0.18">60</text>
<line x1="425.95" y1="217.15" x2="428.75" y2="217.15" stroke="#141414" stroke-width="1"/>
<text x="423.25" y="219.15" font-size="5.6" text-anchor="end" font-weight="normal" fill="#1a1a1a" letter-spacing="0.25" stroke="#1a1a1a" stroke-width="0.18">80</text>
<line x1="425.95" y1="203.00" x2="428.75" y2="203.00" stroke="#141414" stroke-width="1"/>
<text x="423.25" y="205.00" font-size="5.6" text-anchor="end" font-weight="normal" fill="#1a1a1a" letter-spacing="0.25" stroke="#1a1a1a" stroke-width="0.18">100</text>
<rect x="434.60" y="236.96" width="10.80" height="36.79" fill="#1b4e8e"/>
<line x1="440.00" y1="236.96" x2="440.00" y2="234.48" stroke="#1b4e8e" stroke-width="1"/>
<line x1="437.20" y1="234.48" x2="442.80" y2="234.48" stroke="#1b4e8e" stroke-width="1"/>
<rect x="451.10" y="248.99" width="10.80" height="24.76" fill="#d3122f"/>
<line x1="456.50" y1="248.99" x2="456.50" y2="246.87" stroke="#d3122f" stroke-width="1"/>
<line x1="453.70" y1="246.87" x2="459.30" y2="246.87" stroke="#d3122f" stroke-width="1"/>
<rect x="467.70" y="243.33" width="10.80" height="30.42" fill="#3dae3a"/>
<line x1="473.10" y1="243.33" x2="473.10" y2="240.50" stroke="#3dae3a" stroke-width="1"/>
<line x1="470.30" y1="240.50" x2="475.90" y2="240.50" stroke="#3dae3a" stroke-width="1"/>
<rect x="483.90" y="244.03" width="10.80" height="29.71" fill="#5c1f72"/>
<line x1="489.30" y1="244.03" x2="489.30" y2="241.56" stroke="#5c1f72" stroke-width="1"/>
<line x1="486.50" y1="241.56" x2="492.10" y2="241.56" stroke="#5c1f72" stroke-width="1"/>
<line x1="428.25" y1="273.75" x2="500.00" y2="273.75" stroke="#141414" stroke-width="1.3"/>
<line x1="440.00" y1="273.75" x2="440.00" y2="275.95" stroke="#141414" stroke-width="1"/>
<text x="440.30" y="281.75" font-size="5.7" text-anchor="end" font-weight="normal" fill="#1a1a1a" letter-spacing="0.2" transform="rotate(-45 440.30 281.75)" stroke="#1a1a1a" stroke-width="0.18">NTC</text>
<line x1="456.50" y1="273.75" x2="456.50" y2="275.95" stroke="#141414" stroke-width="1"/>
<text x="456.80" y="281.75" font-size="5.7" text-anchor="end" font-weight="normal" fill="#1a1a1a" letter-spacing="0.2" transform="rotate(-45 456.80 281.75)" stroke="#1a1a1a" stroke-width="0.18">BCL2 siRNA</text>
<line x1="473.10" y1="273.75" x2="473.10" y2="275.95" stroke="#141414" stroke-width="1"/>
<text x="473.40" y="281.75" font-size="5.7" text-anchor="end" font-weight="normal" fill="#1a1a1a" letter-spacing="0.2" transform="rotate(-45 473.40 281.75)" stroke="#1a1a1a" stroke-width="0.18">CLIP2 siRNA</text>
<line x1="489.30" y1="273.75" x2="489.30" y2="275.95" stroke="#141414" stroke-width="1"/>
<text x="489.60" y="281.75" font-size="5.7" text-anchor="end" font-weight="normal" fill="#1a1a1a" letter-spacing="0.2" transform="rotate(-45 489.60 281.75)" stroke="#1a1a1a" stroke-width="0.18">VAV3 siRNA</text>
<polyline points="440.00,231.35 440.00,226.75 456.50,226.75 456.50,243.67" fill="none" stroke="#3c3c3c" stroke-width="1"/>
<text x="448.25" y="226.65" font-size="6.2" text-anchor="middle" font-weight="normal" fill="#1a1a1a" stroke="#1a1a1a" stroke-width="0.12">***</text>
<polyline points="440.00,216.60 440.00,212.00 473.10,212.00 473.10,237.30" fill="none" stroke="#3c3c3c" stroke-width="1"/>
<text x="456.55" y="211.90" font-size="6.2" text-anchor="middle" font-weight="normal" fill="#1a1a1a" stroke="#1a1a1a" stroke-width="0.12">*</text>
<polyline points="440.00,208.40 440.00,197.50 489.30,197.50 489.30,238.36" fill="none" stroke="#3c3c3c" stroke-width="1"/>
<text x="464.65" y="197.40" font-size="6.2" text-anchor="middle" font-weight="normal" fill="#1a1a1a" stroke="#1a1a1a" stroke-width="0.12">*</text>
<text x="406.15" y="238.88" font-size="7.5" text-anchor="middle" font-weight="bold" fill="#2a2a2a" transform="rotate(-90 406.15 238.88)" textLength="26.0" lengthAdjust="spacingAndGlyphs">Viability %</text>
<text x="192.50" y="495.40" font-size="8" text-anchor="middle" font-weight="normal" fill="#1a1a1a" stroke="#1a1a1a" stroke-width="0.3">ML2 &amp; AraC (12.5uM)</text>
<line x1="157.00" y1="518.75" x2="157.00" y2="590.00" stroke="#141414" stroke-width="1.3"/>
<line x1="154.20" y1="589.50" x2="157.00" y2="589.50" stroke="#141414" stroke-width="1"/>
<text x="151.50" y="591.50" font-size="5.6" text-anchor="end" font-weight="normal" fill="#1a1a1a" letter-spacing="0.25" stroke="#1a1a1a" stroke-width="0.18">0</text>
<line x1="154.20" y1="575.35" x2="157.00" y2="575.35" stroke="#141414" stroke-width="1"/>
<text x="151.50" y="577.35" font-size="5.6" text-anchor="end" font-weight="normal" fill="#1a1a1a" letter-spacing="0.25" stroke="#1a1a1a" stroke-width="0.18">20</text>
<line x1="154.20" y1="561.20" x2="157.00" y2="561.20" stroke="#141414" stroke-width="1"/>
<text x="151.50" y="563.20" font-size="5.6" text-anchor="end" font-weight="normal" fill="#1a1a1a" letter-spacing="0.25" stroke="#1a1a1a" stroke-width="0.18">40</text>
<line x1="154.20" y1="547.05" x2="157.00" y2="547.05" stroke="#141414" stroke-width="1"/>
<text x="151.50" y="549.05" font-size="5.6" text-anchor="end" font-weight="normal" fill="#1a1a1a" letter-spacing="0.25" stroke="#1a1a1a" stroke-width="0.18">60</text>
<line x1="154.20" y1="532.90" x2="157.00" y2="532.90" stroke="#141414" stroke-width="1"/>
<text x="151.50" y="534.90" font-size="5.6" text-anchor="end" font-weight="normal" fill="#1a1a1a" letter-spacing="0.25" stroke="#1a1a1a" stroke-width="0.18">80</text>
<line x1="154.20" y1="518.75" x2="157.00" y2="518.75" stroke="#141414" stroke-width="1"/>
<text x="151.50" y="520.75" font-size="5.6" text-anchor="end" font-weight="normal" fill="#1a1a1a" letter-spacing="0.25" stroke="#1a1a1a" stroke-width="0.18">100</text>
<rect x="162.40" y="555.54" width="10.70" height="33.96" fill="#1b4e8e"/>
<line x1="167.75" y1="555.54" x2="167.75" y2="555.19" stroke="#1b4e8e" stroke-width="1"/>
<line x1="164.95" y1="555.19" x2="170.55" y2="555.19" stroke="#1b4e8e" stroke-width="1"/>
<rect x="178.15" y="567.57" width="10.70" height="21.93" fill="#d3122f"/>
<line x1="183.50" y1="567.57" x2="183.50" y2="566.86" stroke="#d3122f" stroke-width="1"/>
<line x1="180.70" y1="566.86" x2="186.30" y2="566.86" stroke="#d3122f" stroke-width="1"/>
<rect x="194.65" y="567.57" width="10.70" height="21.93" fill="#3dae3a"/>
<line x1="200.00" y1="567.57" x2="200.00" y2="565.45" stroke="#3dae3a" stroke-width="1"/>
<line x1="197.20" y1="565.45" x2="202.80" y2="565.45" stroke="#3dae3a" stroke-width="1"/>
<rect x="211.65" y="566.86" width="10.70" height="22.64" fill="#5c1f72"/>
<line x1="217.00" y1="566.86" x2="217.00" y2="565.45" stroke="#5c1f72" stroke-width="1"/>
<line x1="214.20" y1="565.45" x2="219.80" y2="565.45" stroke="#5c1f72" stroke-width="1"/>
<line x1="156.50" y1="589.50" x2="227.50" y2="589.50" stroke="#141414" stroke-width="1.3"/>
<line x1="167.75" y1="589.50" x2="167.75" y2="591.70" stroke="#141414" stroke-width="1"/>
<text x="168.05" y="597.50" font-size="5.7" text-anchor="end" font-weight="normal" fill="#1a1a1a" letter-spacing="0.2" transform="rotate(-45 168.05 597.50)" stroke="#1a1a1a" stroke-width="0.18">NTC</text>
<line x1="183.50" y1="589.50" x2="183.50" y2="591.70" stroke="#141414" stroke-width="1"/>
<text x="183.80" y="597.50" font-size="5.7" text-anchor="end" font-weight="normal" fill="#1a1a1a" letter-spacing="0.2" transform="rotate(-45 183.80 597.50)" stroke="#1a1a1a" stroke-width="0.18">BCL2 siRNA</text>
<line x1="200.00" y1="589.50" x2="200.00" y2="591.70" stroke="#141414" stroke-width="1"/>
<text x="200.30" y="597.50" font-size="5.7" text-anchor="end" font-weight="normal" fill="#1a1a1a" letter-spacing="0.2" transform="rotate(-45 200.30 597.50)" stroke="#1a1a1a" stroke-width="0.18">CLIP2 siRNA</text>
<line x1="217.00" y1="589.50" x2="217.00" y2="591.70" stroke="#141414" stroke-width="1"/>
<text x="217.30" y="597.50" font-size="5.7" text-anchor="end" font-weight="normal" fill="#1a1a1a" letter-spacing="0.2" transform="rotate(-45 217.30 597.50)" stroke="#1a1a1a" stroke-width="0.18">VAV3 siRNA</text>
<polyline points="167.75,551.60 167.75,547.00 183.50,547.00 183.50,563.66" fill="none" stroke="#3c3c3c" stroke-width="1"/>
<text x="175.62" y="546.90" font-size="6.2" text-anchor="middle" font-weight="normal" fill="#1a1a1a" stroke="#1a1a1a" stroke-width="0.12">***</text>
<polyline points="167.75,537.10 167.75,532.50 200.00,532.50 200.00,562.25" fill="none" stroke="#3c3c3c" stroke-width="1"/>
<text x="183.88" y="532.40" font-size="6.2" text-anchor="middle" font-weight="normal" fill="#1a1a1a" stroke="#1a1a1a" stroke-width="0.12">***</text>
<polyline points="167.75,528.90 167.75,518.25 217.00,518.25 217.00,562.25" fill="none" stroke="#3c3c3c" stroke-width="1"/>
<text x="192.38" y="518.15" font-size="6.2" text-anchor="middle" font-weight="normal" fill="#1a1a1a" stroke="#1a1a1a" stroke-width="0.12">***</text>
<text x="134.40" y="554.62" font-size="7.5" text-anchor="middle" font-weight="bold" fill="#2a2a2a" transform="rotate(-90 134.40 554.62)" textLength="26.0" lengthAdjust="spacingAndGlyphs">Viability %</text>
<text x="330.00" y="495.40" font-size="8" text-anchor="middle" font-weight="normal" fill="#1a1a1a" stroke="#1a1a1a" stroke-width="0.3">ML2 &amp; Dauno</text>
<text x="330.00" y="505.40" font-size="8" text-anchor="middle" font-weight="normal" fill="#1a1a1a" stroke="#1a1a1a" stroke-width="0.3">(0.500uM)</text>
<line x1="294.25" y1="518.25" x2="294.25" y2="589.75" stroke="#141414" stroke-width="1.3"/>
<line x1="291.45" y1="589.25" x2="294.25" y2="589.25" stroke="#141414" stroke-width="1"/>
<text x="288.75" y="591.25" font-size="5.6" text-anchor="end" font-weight="normal" fill="#1a1a1a" letter-spacing="0.25" stroke="#1a1a1a" stroke-width="0.18">0</text>
<line x1="291.45" y1="575.05" x2="294.25" y2="575.05" stroke="#141414" stroke-width="1"/>
<text x="288.75" y="577.05" font-size="5.6" text-anchor="end" font-weight="normal" fill="#1a1a1a" letter-spacing="0.25" stroke="#1a1a1a" stroke-width="0.18">20</text>
<line x1="291.45" y1="560.85" x2="294.25" y2="560.85" stroke="#141414" stroke-width="1"/>
<text x="288.75" y="562.85" font-size="5.6" text-anchor="end" font-weight="normal" fill="#1a1a1a" letter-spacing="0.25" stroke="#1a1a1a" stroke-width="0.18">40</text>
<line x1="291.45" y1="546.65" x2="294.25" y2="546.65" stroke="#141414" stroke-width="1"/>
<text x="288.75" y="548.65" font-size="5.6" text-anchor="end" font-weight="normal" fill="#1a1a1a" letter-spacing="0.25" stroke="#1a1a1a" stroke-width="0.18">60</text>
<line x1="291.45" y1="532.45" x2="294.25" y2="532.45" stroke="#141414" stroke-width="1"/>
<text x="288.75" y="534.45" font-size="5.6" text-anchor="end" font-weight="normal" fill="#1a1a1a" letter-spacing="0.25" stroke="#1a1a1a" stroke-width="0.18">80</text>
<line x1="291.45" y1="518.25" x2="294.25" y2="518.25" stroke="#141414" stroke-width="1"/>
<text x="288.75" y="520.25" font-size="5.6" text-anchor="end" font-weight="normal" fill="#1a1a1a" letter-spacing="0.25" stroke="#1a1a1a" stroke-width="0.18">100</text>
<rect x="299.90" y="570.08" width="10.70" height="19.17" fill="#1b4e8e"/>
<line x1="305.25" y1="570.08" x2="305.25" y2="567.95" stroke="#1b4e8e" stroke-width="1"/>
<line x1="302.45" y1="567.95" x2="308.05" y2="567.95" stroke="#1b4e8e" stroke-width="1"/>
<rect x="316.25" y="576.47" width="10.70" height="12.78" fill="#d3122f"/>
<line x1="321.60" y1="576.47" x2="321.60" y2="576.12" stroke="#d3122f" stroke-width="1"/>
<line x1="318.80" y1="576.12" x2="324.40" y2="576.12" stroke="#d3122f" stroke-width="1"/>
<rect x="332.75" y="573.63" width="10.70" height="15.62" fill="#3dae3a"/>
<line x1="338.10" y1="573.63" x2="338.10" y2="572.92" stroke="#3dae3a" stroke-width="1"/>
<line x1="335.30" y1="572.92" x2="340.90" y2="572.92" stroke="#3dae3a" stroke-width="1"/>
<rect x="349.40" y="576.47" width="10.70" height="12.78" fill="#5c1f72"/>
<line x1="354.75" y1="576.47" x2="354.75" y2="575.05" stroke="#5c1f72" stroke-width="1"/>
<line x1="351.95" y1="575.05" x2="357.55" y2="575.05" stroke="#5c1f72" stroke-width="1"/>
<line x1="293.75" y1="589.25" x2="365.00" y2="589.25" stroke="#141414" stroke-width="1.3"/>
<line x1="305.25" y1="589.25" x2="305.25" y2="591.45" stroke="#141414" stroke-width="1"/>
<text x="305.55" y="597.25" font-size="5.7" text-anchor="end" font-weight="normal" fill="#1a1a1a" letter-spacing="0.2" transform="rotate(-45 305.55 597.25)" stroke="#1a1a1a" stroke-width="0.18">NTC</text>
<line x1="321.60" y1="589.25" x2="321.60" y2="591.45" stroke="#141414" stroke-width="1"/>
<text x="321.90" y="597.25" font-size="5.7" text-anchor="end" font-weight="normal" fill="#1a1a1a" letter-spacing="0.2" transform="rotate(-45 321.90 597.25)" stroke="#1a1a1a" stroke-width="0.18">BCL2 siRNA</text>
<line x1="338.10" y1="589.25" x2="338.10" y2="591.45" stroke="#141414" stroke-width="1"/>
<text x="338.40" y="597.25" font-size="5.7" text-anchor="end" font-weight="normal" fill="#1a1a1a" letter-spacing="0.2" transform="rotate(-45 338.40 597.25)" stroke="#1a1a1a" stroke-width="0.18">CLIP2 siRNA</text>
<line x1="354.75" y1="589.25" x2="354.75" y2="591.45" stroke="#141414" stroke-width="1"/>
<text x="355.05" y="597.25" font-size="5.7" text-anchor="end" font-weight="normal" fill="#1a1a1a" letter-spacing="0.2" transform="rotate(-45 355.05 597.25)" stroke="#1a1a1a" stroke-width="0.18">VAV3 siRNA</text>
<polyline points="305.25,563.85 305.25,559.25 321.60,559.25 321.60,572.91" fill="none" stroke="#3c3c3c" stroke-width="1"/>
<text x="313.43" y="559.15" font-size="6.2" text-anchor="middle" font-weight="normal" fill="#1a1a1a" stroke="#1a1a1a" stroke-width="0.12">***</text>
<polyline points="305.25,549.60 305.25,545.00 338.10,545.00 338.10,569.72" fill="none" stroke="#3c3c3c" stroke-width="1"/>
<text x="321.68" y="544.90" font-size="6.2" text-anchor="middle" font-weight="normal" fill="#1a1a1a" stroke="#1a1a1a" stroke-width="0.12">*</text>
<polyline points="305.25,541.40 305.25,530.50 354.75,530.50 354.75,571.85" fill="none" stroke="#3c3c3c" stroke-width="1"/>
<text x="330.00" y="530.40" font-size="6.2" text-anchor="middle" font-weight="normal" fill="#1a1a1a" stroke="#1a1a1a" stroke-width="0.12">***</text>
<text x="271.65" y="554.25" font-size="7.5" text-anchor="middle" font-weight="bold" fill="#2a2a2a" transform="rotate(-90 271.65 554.25)" textLength="26.0" lengthAdjust="spacingAndGlyphs">Viability %</text>
<text x="465.00" y="495.40" font-size="8" text-anchor="middle" font-weight="normal" fill="#1a1a1a" stroke="#1a1a1a" stroke-width="0.3">ML2 &amp; Etop (3.4uM)</text>
<line x1="429.25" y1="518.75" x2="429.25" y2="590.00" stroke="#141414" stroke-width="1.3"/>
<line x1="426.45" y1="589.50" x2="429.25" y2="589.50" stroke="#141414" stroke-width="1"/>
<text x="423.75" y="591.50" font-size="5.6" text-anchor="end" font-weight="normal" fill="#1a1a1a" letter-spacing="0.25" stroke="#1a1a1a" stroke-width="0.18">0</text>
<line x1="426.45" y1="575.35" x2="429.25" y2="575.35" stroke="#141414" stroke-width="1"/>
<text x="423.75" y="577.35" font-size="5.6" text-anchor="end" font-weight="normal" fill="#1a1a1a" letter-spacing="0.25" stroke="#1a1a1a" stroke-width="0.18">20</text>
<line x1="426.45" y1="561.20" x2="429.25" y2="561.20" stroke="#141414" stroke-width="1"/>
<text x="423.75" y="563.20" font-size="5.6" text-anchor="end" font-weight="normal" fill="#1a1a1a" letter-spacing="0.25" stroke="#1a1a1a" stroke-width="0.18">40</text>
<line x1="426.45" y1="547.05" x2="429.25" y2="547.05" stroke="#141414" stroke-width="1"/>
<text x="423.75" y="549.05" font-size="5.6" text-anchor="end" font-weight="normal" fill="#1a1a1a" letter-spacing="0.25" stroke="#1a1a1a" stroke-width="0.18">60</text>
<line x1="426.45" y1="532.90" x2="429.25" y2="532.90" stroke="#141414" stroke-width="1"/>
<text x="423.75" y="534.90" font-size="5.6" text-anchor="end" font-weight="normal" fill="#1a1a1a" letter-spacing="0.25" stroke="#1a1a1a" stroke-width="0.18">80</text>
<line x1="426.45" y1="518.75" x2="429.25" y2="518.75" stroke="#141414" stroke-width="1"/>
<text x="423.75" y="520.75" font-size="5.6" text-anchor="end" font-weight="normal" fill="#1a1a1a" letter-spacing="0.25" stroke="#1a1a1a" stroke-width="0.18">100</text>
<rect x="434.90" y="547.76" width="10.70" height="41.74" fill="#1b4e8e"/>
<line x1="440.25" y1="547.76" x2="440.25" y2="545.63" stroke="#1b4e8e" stroke-width="1"/>
<line x1="437.45" y1="545.63" x2="443.05" y2="545.63" stroke="#1b4e8e" stroke-width="1"/>
<rect x="451.25" y="561.91" width="10.70" height="27.59" fill="#d3122f"/>
<line x1="456.60" y1="561.91" x2="456.60" y2="559.78" stroke="#d3122f" stroke-width="1"/>
<line x1="453.80" y1="559.78" x2="459.40" y2="559.78" stroke="#d3122f" stroke-width="1"/>
<rect x="468.05" y="554.12" width="10.70" height="35.38" fill="#3dae3a"/>
<line x1="473.40" y1="554.12" x2="473.40" y2="551.29" stroke="#3dae3a" stroke-width="1"/>
<line x1="470.60" y1="551.29" x2="476.20" y2="551.29" stroke="#3dae3a" stroke-width="1"/>
<rect x="484.40" y="558.37" width="10.70" height="31.13" fill="#5c1f72"/>
<line x1="489.75" y1="558.37" x2="489.75" y2="554.83" stroke="#5c1f72" stroke-width="1"/>
<line x1="486.95" y1="554.83" x2="492.55" y2="554.83" stroke="#5c1f72" stroke-width="1"/>
<line x1="428.75" y1="589.50" x2="500.00" y2="589.50" stroke="#141414" stroke-width="1.3"/>
<line x1="440.25" y1="589.50" x2="440.25" y2="591.70" stroke="#141414" stroke-width="1"/>
<text x="440.55" y="597.50" font-size="5.7" text-anchor="end" font-weight="normal" fill="#1a1a1a" letter-spacing="0.2" transform="rotate(-45 440.55 597.50)" stroke="#1a1a1a" stroke-width="0.18">NTC</text>
<line x1="456.60" y1="589.50" x2="456.60" y2="591.70" stroke="#141414" stroke-width="1"/>
<text x="456.90" y="597.50" font-size="5.7" text-anchor="end" font-weight="normal" fill="#1a1a1a" letter-spacing="0.2" transform="rotate(-45 456.90 597.50)" stroke="#1a1a1a" stroke-width="0.18">BCL2 siRNA</text>
<line x1="473.40" y1="589.50" x2="473.40" y2="591.70" stroke="#141414" stroke-width="1"/>
<text x="473.70" y="597.50" font-size="5.7" text-anchor="end" font-weight="normal" fill="#1a1a1a" letter-spacing="0.2" transform="rotate(-45 473.70 597.50)" stroke="#1a1a1a" stroke-width="0.18">CLIP2 siRNA</text>
<line x1="489.75" y1="589.50" x2="489.75" y2="591.70" stroke="#141414" stroke-width="1"/>
<text x="490.05" y="597.50" font-size="5.7" text-anchor="end" font-weight="normal" fill="#1a1a1a" letter-spacing="0.2" transform="rotate(-45 490.05 597.50)" stroke="#1a1a1a" stroke-width="0.18">VAV3 siRNA</text>
<polyline points="440.25,541.35 440.25,536.75 456.60,536.75 456.60,556.58" fill="none" stroke="#3c3c3c" stroke-width="1"/>
<text x="448.43" y="536.65" font-size="6.2" text-anchor="middle" font-weight="normal" fill="#1a1a1a" stroke="#1a1a1a" stroke-width="0.12">***</text>
<polyline points="440.25,527.10 440.25,522.50 473.40,522.50 473.40,548.09" fill="none" stroke="#3c3c3c" stroke-width="1"/>
<text x="456.82" y="522.40" font-size="6.2" text-anchor="middle" font-weight="normal" fill="#1a1a1a" stroke="#1a1a1a" stroke-width="0.12">*</text>
<polyline points="440.25,518.90 440.25,508.25 489.75,508.25 489.75,551.63" fill="none" stroke="#3c3c3c" stroke-width="1"/>
<text x="465.00" y="508.15" font-size="6.2" text-anchor="middle" font-weight="normal" fill="#1a1a1a" stroke="#1a1a1a" stroke-width="0.12">**</text>
<text x="406.65" y="554.62" font-size="7.5" text-anchor="middle" font-weight="bold" fill="#2a2a2a" transform="rotate(-90 406.65 554.62)" textLength="26.0" lengthAdjust="spacingAndGlyphs">Viability %</text>
</svg>
</body></html>
